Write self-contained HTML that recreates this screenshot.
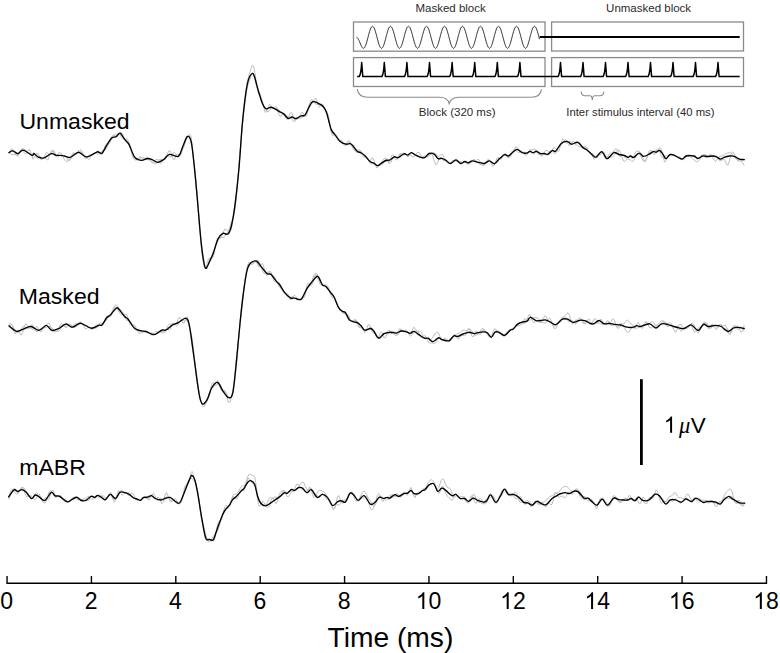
<!DOCTYPE html>
<html><head><meta charset="utf-8"><style>
html,body{margin:0;padding:0;background:#fff;}
svg{display:block;}
text{font-family:"Liberation Sans",sans-serif;}
.g{fill:none;stroke:#bdbdbd;stroke-width:1;stroke-linejoin:round;}
.k{fill:none;stroke:#000;stroke-width:1.35;stroke-linejoin:round;stroke-linecap:round;}
.box{fill:none;stroke:#8a8a8a;stroke-width:1.3;}
.it{font-size:11.5px;fill:#2a2a2a;}
</style></head><body>
<svg width="780" height="653" viewBox="0 0 780 653">
<rect width="780" height="653" fill="#fff"/>
<text class="it" x="450.6" y="11.8" text-anchor="middle">Masked block</text>
<text class="it" x="648.6" y="11.8" text-anchor="middle">Unmasked block</text>
<rect class="box" x="353.5" y="22" width="191.5" height="29.2"/>
<rect class="box" x="551.6" y="22" width="191.9" height="29"/>
<rect class="box" x="353.5" y="57.6" width="191.5" height="28.9"/>
<rect class="box" x="551.6" y="57.6" width="191.9" height="28.9"/>
<path d="M356.50,37.30 L357.00,37.44 L357.50,37.85 L358.00,38.51 L358.50,39.39 L359.00,40.44 L359.50,41.62 L360.00,42.85 L360.50,44.08 L361.00,45.26 L361.50,46.31 L362.00,47.19 L362.50,47.85 L363.00,48.26 L363.50,48.30 L364.00,48.13 L364.50,47.64 L365.00,46.83 L365.50,45.73 L366.00,44.37 L366.50,42.80 L367.00,41.06 L367.50,39.21 L368.00,37.30 L368.50,35.39 L369.00,33.54 L369.50,31.80 L370.00,30.23 L370.50,28.87 L371.00,27.77 L371.50,26.96 L372.00,26.47 L372.50,26.30 L373.00,26.47 L373.50,26.96 L374.00,27.77 L374.50,28.87 L375.00,30.23 L375.50,31.80 L376.00,33.54 L376.50,35.39 L377.00,37.30 L377.50,39.21 L378.00,41.06 L378.50,42.80 L379.00,44.37 L379.50,45.73 L380.00,46.83 L380.50,47.64 L381.00,48.13 L381.50,48.30 L382.00,48.13 L382.50,47.64 L383.00,46.83 L383.50,45.73 L384.00,44.37 L384.50,42.80 L385.00,41.06 L385.50,39.21 L386.00,37.30 L386.50,35.39 L387.00,33.54 L387.50,31.80 L388.00,30.23 L388.50,28.87 L389.00,27.77 L389.50,26.96 L390.00,26.47 L390.50,26.30 L391.00,26.47 L391.50,26.96 L392.00,27.77 L392.50,28.87 L393.00,30.23 L393.50,31.80 L394.00,33.54 L394.50,35.39 L395.00,37.30 L395.50,39.21 L396.00,41.06 L396.50,42.80 L397.00,44.37 L397.50,45.73 L398.00,46.83 L398.50,47.64 L399.00,48.13 L399.50,48.30 L400.00,48.13 L400.50,47.64 L401.00,46.83 L401.50,45.73 L402.00,44.37 L402.50,42.80 L403.00,41.06 L403.50,39.21 L404.00,37.30 L404.50,35.39 L405.00,33.54 L405.50,31.80 L406.00,30.23 L406.50,28.87 L407.00,27.77 L407.50,26.96 L408.00,26.47 L408.50,26.30 L409.00,26.47 L409.50,26.96 L410.00,27.77 L410.50,28.87 L411.00,30.23 L411.50,31.80 L412.00,33.54 L412.50,35.39 L413.00,37.30 L413.50,39.21 L414.00,41.06 L414.50,42.80 L415.00,44.37 L415.50,45.73 L416.00,46.83 L416.50,47.64 L417.00,48.13 L417.50,48.30 L418.00,48.13 L418.50,47.64 L419.00,46.83 L419.50,45.73 L420.00,44.37 L420.50,42.80 L421.00,41.06 L421.50,39.21 L422.00,37.30 L422.50,35.39 L423.00,33.54 L423.50,31.80 L424.00,30.23 L424.50,28.87 L425.00,27.77 L425.50,26.96 L426.00,26.47 L426.50,26.30 L427.00,26.47 L427.50,26.96 L428.00,27.77 L428.50,28.87 L429.00,30.23 L429.50,31.80 L430.00,33.54 L430.50,35.39 L431.00,37.30 L431.50,39.21 L432.00,41.06 L432.50,42.80 L433.00,44.37 L433.50,45.73 L434.00,46.83 L434.50,47.64 L435.00,48.13 L435.50,48.30 L436.00,48.13 L436.50,47.64 L437.00,46.83 L437.50,45.73 L438.00,44.37 L438.50,42.80 L439.00,41.06 L439.50,39.21 L440.00,37.30 L440.50,35.39 L441.00,33.54 L441.50,31.80 L442.00,30.23 L442.50,28.87 L443.00,27.77 L443.50,26.96 L444.00,26.47 L444.50,26.30 L445.00,26.47 L445.50,26.96 L446.00,27.77 L446.50,28.87 L447.00,30.23 L447.50,31.80 L448.00,33.54 L448.50,35.39 L449.00,37.30 L449.50,39.21 L450.00,41.06 L450.50,42.80 L451.00,44.37 L451.50,45.73 L452.00,46.83 L452.50,47.64 L453.00,48.13 L453.50,48.30 L454.00,48.13 L454.50,47.64 L455.00,46.83 L455.50,45.73 L456.00,44.37 L456.50,42.80 L457.00,41.06 L457.50,39.21 L458.00,37.30 L458.50,35.39 L459.00,33.54 L459.50,31.80 L460.00,30.23 L460.50,28.87 L461.00,27.77 L461.50,26.96 L462.00,26.47 L462.50,26.30 L463.00,26.47 L463.50,26.96 L464.00,27.77 L464.50,28.87 L465.00,30.23 L465.50,31.80 L466.00,33.54 L466.50,35.39 L467.00,37.30 L467.50,39.21 L468.00,41.06 L468.50,42.80 L469.00,44.37 L469.50,45.73 L470.00,46.83 L470.50,47.64 L471.00,48.13 L471.50,48.30 L472.00,48.13 L472.50,47.64 L473.00,46.83 L473.50,45.73 L474.00,44.37 L474.50,42.80 L475.00,41.06 L475.50,39.21 L476.00,37.30 L476.50,35.39 L477.00,33.54 L477.50,31.80 L478.00,30.23 L478.50,28.87 L479.00,27.77 L479.50,26.96 L480.00,26.47 L480.50,26.30 L481.00,26.47 L481.50,26.96 L482.00,27.77 L482.50,28.87 L483.00,30.23 L483.50,31.80 L484.00,33.54 L484.50,35.39 L485.00,37.30 L485.50,39.21 L486.00,41.06 L486.50,42.80 L487.00,44.37 L487.50,45.73 L488.00,46.83 L488.50,47.64 L489.00,48.13 L489.50,48.30 L490.00,48.13 L490.50,47.64 L491.00,46.83 L491.50,45.73 L492.00,44.37 L492.50,42.80 L493.00,41.06 L493.50,39.21 L494.00,37.30 L494.50,35.39 L495.00,33.54 L495.50,31.80 L496.00,30.23 L496.50,28.87 L497.00,27.77 L497.50,26.96 L498.00,26.47 L498.50,26.30 L499.00,26.47 L499.50,26.96 L500.00,27.77 L500.50,28.87 L501.00,30.23 L501.50,31.80 L502.00,33.54 L502.50,35.39 L503.00,37.30 L503.50,39.21 L504.00,41.06 L504.50,42.80 L505.00,44.37 L505.50,45.73 L506.00,46.83 L506.50,47.64 L507.00,48.13 L507.50,48.30 L508.00,48.13 L508.50,47.64 L509.00,46.83 L509.50,45.73 L510.00,44.37 L510.50,42.80 L511.00,41.06 L511.50,39.21 L512.00,37.30 L512.50,35.39 L513.00,33.54 L513.50,31.80 L514.00,30.23 L514.50,28.87 L515.00,27.77 L515.50,26.96 L516.00,26.47 L516.50,26.30 L517.00,26.47 L517.50,26.96 L518.00,27.77 L518.50,28.87 L519.00,30.23 L519.50,31.80 L520.00,33.54 L520.50,35.39 L521.00,37.30 L521.50,39.21 L522.00,41.06 L522.50,42.80 L523.00,44.37 L523.50,45.73 L524.00,46.83 L524.50,47.64 L525.00,48.13 L525.50,48.30 L526.00,48.13 L526.50,47.64 L527.00,46.83 L527.50,45.73 L528.00,44.37 L528.50,42.80 L529.00,41.06 L529.50,39.21 L530.00,37.30 L530.50,35.39 L531.00,33.54 L531.50,31.80 L532.00,30.23 L532.50,28.87 L533.00,27.77 L533.50,26.96 L534.00,26.47 L534.50,26.30 L535.00,26.47 L535.50,26.96 L536.00,27.77 L536.50,28.87 L537.00,30.23 L537.50,31.80 L538.00,33.54 L538.50,35.39 L539.00,37.30 L539.50,39.21" fill="none" stroke="#333" stroke-width="1.0"/>
<line x1="539.7" y1="37.1" x2="739.7" y2="37.1" stroke="#000" stroke-width="2"/>
<path d="M357.2,76.6 L359.3,76.6 Q361.0,74 361.7,62.6 L362.8,76.6 L381.9,76.6 Q383.6,74 384.3,62.6 L385.4,76.6 L404.5,76.6 Q406.2,74 406.9,62.6 L408.0,76.6 L427.1,76.6 Q428.8,74 429.5,62.6 L430.6,76.6 L449.7,76.6 Q451.4,74 452.1,62.6 L453.2,76.6 L472.3,76.6 Q474.0,74 474.7,62.6 L475.8,76.6 L494.9,76.6 Q496.6,74 497.3,62.6 L498.4,76.6 L517.5,76.6 Q519.2,74 519.9,62.6 L521.0,76.6 L558.1,76.6 Q559.8,74 560.5,62.6 L561.6,76.6 L580.6,76.6 Q582.3,74 583.0,62.6 L584.1,76.6 L603.1,76.6 Q604.8,74 605.5,62.6 L606.6,76.6 L625.6,76.6 Q627.3,74 628.0,62.6 L629.1,76.6 L648.1,76.6 Q649.8,74 650.5,62.6 L651.6,76.6 L670.6,76.6 Q672.3,74 673.0,62.6 L674.1,76.6 L693.1,76.6 Q694.8,74 695.5,62.6 L696.6,76.6 L715.6,76.6 Q717.3,74 718.0,62.6 L719.1,76.6 L739.7,76.6" fill="none" stroke="#000" stroke-width="1.5" stroke-linejoin="round"/>
<path d="M357.2,89.1 Q358.5,97.3 368,97.3 L440,97.3 Q447.5,97.3 449.2,103.7 Q451,97.3 458.5,97.3 L531,97.3 Q540.5,97.3 541.5,89.4" fill="none" stroke="#8a8a8a" stroke-width="1.1"/>
<path d="M581.2,91.5 Q581.5,95.8 585,95.8 L590,95.8 Q592,95.8 592.3,100 Q592.6,95.8 594.6,95.8 L600,95.8 Q603.5,95.8 603.8,91.5" fill="none" stroke="#8a8a8a" stroke-width="1.1"/>
<text class="it" x="457.2" y="115.6" text-anchor="middle">Block (320 ms)</text>
<text class="it" x="640.4" y="115.8" text-anchor="middle" style="font-size:11.3px">Inter stimulus interval (40 ms)</text>
<path class="g" d="M9.0,152.5 10.4,154.0 11.9,154.7 13.5,154.6 15.0,154.6 16.3,154.8 17.9,154.8 19.3,153.5 20.5,151.8 21.8,150.6 23.5,151.7 25.2,153.9 26.8,153.1 28.3,150.0 29.8,149.5 31.5,154.5 33.0,159.2 33.6,158.2 35.1,156.2 36.5,153.3 37.7,153.0 39.3,156.4 40.9,159.7 42.6,158.7 44.5,157.3 46.3,159.4 47.8,160.0 49.3,156.5 51.0,151.1 52.7,150.7 54.4,154.6 55.8,156.5 57.6,154.7 59.5,152.2 61.1,153.2 62.8,156.5 64.5,159.7 66.2,161.3 68.0,161.1 69.9,159.7 71.5,157.9 73.2,155.9 74.4,155.0 75.7,154.6 77.4,153.5 79.0,151.2 80.6,149.6 82.2,151.4 83.7,155.7 85.2,158.7 86.9,157.9 88.6,155.6 90.2,154.9 91.7,154.8 93.4,153.6 95.0,152.5 96.4,153.0 98.1,154.2 99.6,153.7 101.2,151.7 102.8,150.3 103.8,150.2 104.7,150.1 105.6,149.6 106.5,148.4 107.5,146.3 108.6,143.5 109.6,140.7 110.7,138.4 111.9,136.2 113.6,135.0 115.4,135.8 116.8,136.7 117.9,135.8 119.0,134.0 120.6,132.1 121.7,132.7 122.7,134.5 123.6,137.0 124.7,140.0 126.0,142.1 127.3,143.2 128.5,144.4 129.5,146.1 130.3,148.2 131.2,150.7 132.0,153.3 132.9,155.9 133.8,158.1 134.7,159.7 136.0,160.3 137.6,159.0 139.2,156.9 140.9,156.9 142.5,158.7 144.2,159.3 145.8,158.0 147.6,157.4 149.3,159.1 150.9,161.0 152.6,161.9 154.3,163.2 155.7,164.0 157.5,162.5 159.4,159.5 161.0,159.3 162.7,160.4 164.2,159.6 165.5,157.3 166.6,155.5 167.9,155.6 169.4,157.1 171.0,156.6 172.9,153.2 174.4,152.4 176.3,154.9 177.9,156.2 179.2,155.0 180.3,153.3 180.9,152.1 181.6,151.0 182.2,150.0 182.8,149.1 183.4,148.0 184.1,146.3 184.8,144.0 185.4,141.4 186.3,138.2 187.3,135.6 188.9,135.9 190.0,138.6 190.7,141.1 191.2,143.2 191.6,145.4 191.9,147.0 192.2,148.7 192.4,150.5 192.7,152.3 192.9,154.3 193.2,156.4 193.5,158.6 193.8,160.9 194.1,163.3 194.4,166.0 194.6,167.4 194.8,168.9 195.0,170.4 195.1,172.0 195.3,173.7 195.5,175.4 195.7,177.1 195.8,178.9 196.0,180.8 196.2,182.8 196.4,184.7 196.6,186.8 196.7,188.9 196.9,191.0 197.1,193.2 197.3,195.4 197.5,197.7 197.7,200.1 197.9,202.6 198.1,205.2 198.3,207.9 198.5,210.6 198.7,213.5 198.9,216.3 199.1,219.1 199.3,222.0 199.5,224.8 199.7,227.6 199.9,230.4 200.1,233.0 200.3,235.6 200.5,238.0 200.7,240.4 200.8,242.6 201.0,244.7 201.2,246.6 201.4,248.3 201.7,251.6 202.0,254.4 202.4,256.9 202.7,259.0 203.0,260.8 203.3,262.4 203.6,263.7 204.0,265.2 204.3,266.5 204.7,267.4 205.4,267.4 206.7,264.4 207.4,261.8 208.2,259.8 208.9,258.4 209.6,257.7 210.4,257.8 211.3,258.2 212.1,258.2 212.9,257.4 213.5,255.8 214.2,253.0 214.7,250.7 215.2,248.0 215.7,245.3 216.2,242.7 216.7,240.5 217.5,238.3 218.2,237.5 219.2,237.8 220.2,238.4 221.4,237.4 222.9,233.2 224.7,229.1 226.2,229.8 227.9,230.9 229.1,229.0 230.0,226.5 230.6,224.3 231.1,222.7 231.7,221.2 232.0,220.3 232.4,219.5 232.8,218.6 233.2,217.6 233.5,216.6 233.9,215.2 234.3,213.6 234.6,211.6 235.0,209.2 235.4,206.3 235.8,203.1 236.1,199.4 236.3,197.5 236.5,195.4 236.7,193.3 236.9,191.2 237.1,189.0 237.3,186.8 237.4,184.6 237.6,182.4 237.8,180.2 238.0,178.0 238.2,175.9 238.4,173.7 238.5,171.6 238.7,169.6 238.9,167.5 239.1,165.5 239.3,163.5 239.4,161.4 239.6,159.3 239.8,157.2 240.0,155.1 240.1,153.0 240.3,150.9 240.5,148.8 240.6,146.7 240.8,144.6 241.0,142.5 241.2,140.4 241.3,138.4 241.5,136.4 241.7,134.4 241.8,132.5 242.0,130.6 242.1,128.7 242.3,127.0 242.5,125.2 242.6,123.5 242.8,121.8 242.9,120.2 243.2,116.9 243.5,113.6 243.8,110.5 244.1,107.4 244.4,104.5 244.7,101.6 245.0,98.8 245.3,96.0 245.6,93.5 245.9,91.1 246.2,88.8 246.5,86.8 246.8,84.9 247.1,83.2 247.6,80.8 248.1,78.7 248.6,76.7 249.1,74.8 249.9,72.0 251.0,68.5 252.2,65.3 253.5,66.0 254.2,69.0 254.8,72.3 255.3,75.8 255.9,79.7 256.5,83.8 256.9,86.3 257.5,89.6 258.1,92.0 258.7,93.7 259.3,94.9 259.9,95.8 260.4,96.7 261.0,97.8 261.6,99.2 262.4,101.7 263.1,104.8 264.1,108.8 265.2,112.3 266.7,111.9 268.3,106.8 269.7,104.2 271.4,106.0 273.0,108.2 274.6,107.0 276.2,106.4 277.6,109.8 279.0,114.8 280.6,116.7 282.2,114.1 283.6,113.0 284.8,114.9 285.9,118.1 287.1,119.6 288.6,117.3 290.1,113.1 291.6,112.5 293.3,116.7 294.7,119.9 296.5,119.6 298.2,118.6 299.6,118.4 301.2,118.0 302.8,117.0 304.4,116.0 305.6,114.5 306.4,112.9 307.1,110.8 307.9,108.4 308.7,106.0 309.6,103.4 310.5,101.3 311.4,100.0 312.7,100.2 314.4,102.6 316.0,104.4 317.6,104.5 319.3,103.8 320.8,104.2 322.2,106.0 323.4,108.0 324.5,109.1 325.4,109.8 326.1,110.4 326.8,111.4 327.3,112.8 327.8,114.7 328.3,117.0 328.8,119.5 329.2,122.1 329.7,124.7 330.2,127.3 330.6,129.7 331.2,131.7 332.0,133.3 333.1,133.6 334.3,133.2 335.4,133.9 336.6,136.2 337.6,138.6 338.6,140.2 339.7,140.7 341.1,140.4 342.6,141.4 344.1,144.2 345.8,146.0 347.4,144.5 349.1,142.2 350.8,143.7 352.2,146.8 353.3,149.0 354.4,150.2 355.4,150.6 356.4,150.5 357.6,150.1 359.1,149.7 360.8,150.8 362.3,152.9 363.6,154.4 364.9,155.3 366.1,156.4 367.2,157.9 368.3,160.1 369.5,162.6 370.8,163.9 372.5,163.8 374.2,163.8 375.6,165.0 376.9,166.1 378.6,165.5 379.9,164.0 381.3,162.5 382.8,160.6 384.2,158.6 385.8,157.8 387.4,160.3 389.1,163.7 390.8,162.7 392.2,159.2 393.5,156.7 395.2,156.9 396.7,158.0 398.4,156.1 399.9,153.8 401.4,153.3 402.9,154.4 404.5,154.7 406.0,154.5 407.6,154.8 409.0,155.0 410.2,155.2 411.7,156.2 413.2,156.8 414.8,155.9 416.2,153.8 417.8,152.1 419.3,152.8 421.0,155.5 422.5,157.2 424.1,157.2 425.7,157.0 426.8,157.1 427.9,156.9 429.3,155.6 431.2,153.8 432.7,156.0 434.4,161.6 435.7,164.5 436.6,164.6 437.7,162.4 439.2,158.2 440.9,157.5 442.7,160.1 444.2,161.0 445.6,160.3 446.9,160.3 448.2,161.8 449.6,163.6 451.1,163.7 452.6,162.2 454.0,160.5 455.5,159.8 457.2,160.6 458.3,162.0 459.4,163.3 461.0,163.5 462.6,162.4 464.0,162.0 465.5,163.0 467.0,164.4 468.6,163.4 470.1,161.0 471.7,160.2 473.4,161.4 475.1,161.4 476.7,159.8 478.4,159.2 480.0,161.4 481.7,164.5 483.3,165.7 485.0,164.6 486.6,162.0 488.1,160.0 489.9,160.8 491.4,164.3 492.7,166.5 494.2,165.5 495.8,161.1 497.1,158.2 498.1,157.6 499.3,158.5 500.6,159.3 502.0,158.1 503.3,155.6 504.7,153.5 506.3,154.2 507.8,155.9 509.4,155.4 510.7,153.4 511.9,151.6 513.1,150.4 514.5,150.0 515.9,150.6 517.6,151.9 519.1,152.4 520.4,152.0 522.0,151.9 523.6,153.5 525.2,155.3 526.9,154.9 528.4,152.2 529.7,150.0 531.3,149.7 532.8,149.9 534.4,149.1 535.8,149.3 537.4,152.1 538.7,154.5 540.3,155.1 542.0,154.2 543.8,154.2 545.5,154.9 547.2,155.1 548.7,154.8 549.8,154.4 551.0,152.9 552.5,149.4 554.0,147.4 555.5,148.1 556.8,150.3 557.9,151.6 558.9,150.8 559.8,148.0 561.0,143.0 562.5,139.2 564.0,139.9 565.7,142.8 567.3,142.6 568.9,141.4 570.1,141.4 571.8,142.5 573.3,143.4 575.0,144.0 576.7,144.9 578.5,146.1 579.9,146.8 580.9,147.0 581.9,146.9 583.1,146.7 584.5,146.3 586.1,146.7 587.6,149.0 588.9,151.5 590.3,153.2 591.6,153.6 592.9,153.8 594.1,155.3 595.7,157.6 597.2,158.0 598.4,156.2 599.7,153.7 600.9,152.2 602.5,152.9 603.4,154.5 604.4,155.8 605.2,156.7 606.2,156.9 607.7,156.4 609.0,156.4 610.3,157.1 611.4,157.2 612.7,156.6 614.3,155.3 616.0,153.1 617.6,150.8 619.1,149.9 620.7,152.8 622.5,159.0 624.2,161.7 625.7,160.6 627.3,159.2 628.8,159.4 630.1,159.8 631.6,161.2 633.0,161.3 634.7,158.8 636.0,156.5 637.4,154.6 639.0,153.9 640.6,155.8 641.9,158.6 643.3,161.0 645.0,161.2 646.6,158.4 648.1,154.0 649.6,150.7 651.0,150.1 652.5,152.4 654.2,154.7 655.7,153.7 657.3,150.1 658.5,149.1 660.1,152.7 661.3,156.1 662.4,157.5 663.3,157.1 664.1,156.5 664.8,156.1 666.3,155.7 667.6,155.9 668.7,156.0 669.9,155.3 671.6,154.2 673.3,154.6 674.9,155.9 676.4,156.2 678.1,156.4 679.7,158.0 681.3,159.7 683.1,158.9 684.3,156.8 685.6,155.2 687.4,155.5 689.4,156.3 691.1,157.0 693.0,158.9 694.8,160.7 696.2,161.5 697.7,161.4 699.4,159.8 700.7,158.1 702.1,156.5 703.9,156.3 705.6,157.4 707.2,157.5 709.0,155.3 710.8,154.3 712.5,155.7 714.1,156.8 715.6,156.2 717.1,156.3 718.5,158.4 719.9,160.9 721.6,160.8 722.9,159.1 724.3,159.5 725.9,163.0 727.6,165.3 729.2,161.7 731.0,154.7 732.7,151.7 734.4,154.1 735.9,157.8 737.4,160.5 738.9,161.1 740.5,160.9 742.2,162.1 743.8,165.0 744.3,165.6"/><path class="g" d="M9.0,152.5 10.4,149.9 11.9,148.8 13.5,149.9 15.0,152.6 16.3,155.2 17.9,156.3 19.3,154.0 20.5,151.0 21.8,148.8 23.5,148.8 25.2,149.9 26.8,150.7 28.3,152.6 29.8,154.7 31.5,155.0 33.0,153.9 33.6,152.3 35.1,154.7 36.5,157.7 37.7,158.3 39.3,156.8 40.9,157.0 42.6,158.8 44.5,156.5 46.3,152.5 47.8,153.0 49.3,155.5 51.0,154.3 52.7,150.2 54.4,151.2 55.8,155.6 57.6,157.6 59.5,155.4 61.1,155.4 62.8,156.5 64.5,155.8 66.2,156.2 68.0,159.9 69.9,160.3 71.5,155.8 73.2,152.7 74.4,153.6 75.7,154.6 77.4,152.8 79.0,150.2 80.6,151.3 82.2,154.1 83.7,155.2 85.2,155.4 86.9,157.6 88.6,159.5 90.2,157.8 91.7,154.7 93.4,153.4 95.0,153.2 96.4,151.8 98.1,150.7 99.6,152.4 101.2,155.0 102.8,153.4 103.8,149.9 104.7,146.9 105.6,144.7 106.5,143.8 107.5,143.8 108.6,143.8 109.6,142.9 110.7,141.0 111.9,138.3 113.6,135.9 115.4,134.8 116.8,134.3 117.9,133.8 119.0,133.9 120.6,135.9 121.7,137.6 122.7,138.7 123.6,139.3 124.7,139.3 126.0,138.9 127.3,139.3 128.5,141.2 129.5,144.3 130.3,147.6 131.2,151.3 132.0,154.7 132.9,157.3 133.8,158.8 134.7,159.3 136.0,159.0 137.6,158.7 139.2,158.6 140.9,157.8 142.5,157.1 144.2,158.0 145.8,159.6 147.6,159.8 149.3,159.6 150.9,161.3 152.6,163.2 154.3,162.3 155.7,159.8 157.5,159.1 159.4,162.3 161.0,163.5 162.7,161.3 164.2,159.0 165.5,157.6 166.6,155.7 167.9,152.8 169.4,150.3 171.0,152.6 172.9,158.8 174.4,159.7 176.3,155.3 177.9,154.1 179.2,155.6 180.3,155.8 180.9,154.7 181.6,152.6 182.2,150.2 182.8,147.6 183.4,145.2 184.1,143.2 184.8,141.6 185.4,140.4 186.3,139.1 187.3,137.6 188.9,134.9 190.0,134.4 190.7,135.8 191.2,137.7 191.6,140.4 191.9,142.5 192.2,144.7 192.4,147.2 192.7,149.9 192.9,152.7 193.2,155.6 193.5,158.7 193.8,162.0 194.1,165.3 194.4,168.8 194.6,170.6 194.8,172.4 195.0,174.3 195.1,176.1 195.3,178.0 195.5,179.9 195.7,181.9 195.8,183.8 196.0,185.8 196.2,187.8 196.4,189.8 196.6,191.9 196.7,193.9 196.9,196.0 197.1,198.1 197.3,200.2 197.5,202.3 197.7,204.5 197.9,206.8 198.1,209.2 198.3,211.6 198.5,214.0 198.7,216.4 198.9,218.9 199.1,221.3 199.3,223.6 199.5,225.9 199.7,228.2 199.9,230.4 200.1,232.5 200.3,234.5 200.5,236.4 200.7,238.2 200.8,239.9 201.0,241.4 201.2,242.9 201.4,244.3 201.7,246.8 202.0,249.2 202.4,251.4 202.7,253.5 203.0,255.4 203.3,257.3 203.6,259.1 204.0,261.6 204.3,263.8 204.7,266.1 205.4,268.2 206.7,268.7 207.4,266.9 208.2,264.8 208.9,262.6 209.6,260.4 210.4,258.4 211.3,256.5 212.1,254.8 212.9,253.0 213.5,251.4 214.2,249.5 214.7,248.2 215.2,247.0 215.7,245.8 216.2,244.6 216.7,243.5 217.5,241.9 218.2,240.5 219.2,238.7 220.2,237.5 221.4,237.2 222.9,237.7 224.7,236.7 226.2,233.8 227.9,231.7 229.1,231.7 230.0,231.5 230.6,230.5 231.1,229.0 231.7,226.8 232.0,224.9 232.4,222.7 232.8,220.3 233.2,217.7 233.5,215.0 233.9,212.3 234.3,209.5 234.6,206.7 235.0,203.9 235.4,201.0 235.8,198.1 236.1,195.0 236.3,193.5 236.5,191.8 236.7,190.2 236.9,188.4 237.1,186.7 237.3,184.9 237.4,183.0 237.6,181.1 237.8,179.2 238.0,177.2 238.2,175.2 238.4,173.1 238.5,171.0 238.7,169.0 238.9,166.9 239.1,164.7 239.3,162.5 239.4,160.3 239.6,158.0 239.8,155.7 240.0,153.4 240.1,151.1 240.3,148.8 240.5,146.6 240.6,144.4 240.8,142.2 241.0,140.0 241.2,138.0 241.3,136.0 241.5,134.0 241.7,132.1 241.8,130.4 242.0,128.7 242.1,127.0 242.3,125.5 242.5,124.1 242.6,122.7 242.8,121.3 242.9,120.0 243.2,117.4 243.5,114.8 243.8,112.4 244.1,109.9 244.4,107.5 244.7,105.1 245.0,102.8 245.3,100.4 245.6,98.1 245.9,95.9 246.2,93.9 246.5,92.0 246.8,90.2 247.1,88.6 247.6,86.4 248.1,84.6 248.6,82.9 249.1,81.3 249.9,79.0 251.0,75.9 252.2,72.9 253.5,73.5 254.2,76.1 254.8,78.8 255.3,81.3 255.9,83.9 256.5,86.2 256.9,87.5 257.5,89.1 258.1,90.2 258.7,91.1 259.3,92.2 259.9,93.7 260.4,95.5 261.0,97.5 261.6,99.6 262.4,102.1 263.1,104.1 264.1,106.2 265.2,108.4 266.7,111.0 268.3,111.9 269.7,110.0 271.4,107.3 273.0,107.7 274.6,109.3 276.2,109.3 277.6,108.7 279.0,109.8 280.6,112.6 282.2,113.9 283.6,113.5 284.8,113.6 285.9,114.8 287.1,116.1 288.6,116.8 290.1,116.8 291.6,118.4 293.3,121.3 294.7,121.5 296.5,119.0 298.2,117.5 299.6,116.0 301.2,113.1 302.8,112.4 304.4,115.5 305.6,116.8 306.4,115.8 307.1,113.5 307.9,110.5 308.7,107.8 309.6,105.7 310.5,104.7 311.4,104.3 312.7,103.0 314.4,99.1 316.0,98.4 317.6,103.4 319.3,107.1 320.8,105.3 322.2,103.8 323.4,105.6 324.5,109.0 325.4,111.4 326.1,112.5 326.8,113.1 327.3,113.6 327.8,114.5 328.3,115.8 328.8,117.6 329.2,119.9 329.7,122.6 330.2,125.6 330.6,128.8 331.2,131.8 332.0,134.8 333.1,135.7 334.3,134.6 335.4,134.6 336.6,136.8 337.6,139.4 338.6,141.0 339.7,140.9 341.1,140.0 342.6,141.5 344.1,144.7 345.8,144.8 347.4,141.7 349.1,140.6 350.8,143.4 352.2,145.8 353.3,147.3 354.4,149.1 355.4,151.0 356.4,152.4 357.6,152.7 359.1,151.5 360.8,152.5 362.3,155.8 363.6,157.2 364.9,156.5 366.1,156.1 367.2,157.3 368.3,159.6 369.5,161.2 370.8,160.1 372.5,157.7 374.2,160.6 375.6,165.6 376.9,168.1 378.6,166.6 379.9,165.2 381.3,165.2 382.8,164.1 384.2,161.0 385.8,159.0 387.4,161.1 389.1,162.4 390.8,158.2 392.2,154.8 393.5,155.5 395.2,159.2 396.7,160.1 398.4,156.7 399.9,154.5 401.4,154.2 402.9,153.7 404.5,153.0 406.0,154.4 407.6,156.7 409.0,156.1 410.2,154.0 411.7,152.5 413.2,153.4 414.8,154.8 416.2,155.2 417.8,155.8 419.3,157.0 421.0,157.8 422.5,157.0 424.1,156.1 425.7,156.1 426.8,156.1 427.9,155.9 429.3,155.3 431.2,154.2 432.7,153.2 434.4,152.8 435.7,153.7 436.6,155.1 437.7,156.5 439.2,156.3 440.9,154.4 442.7,154.8 444.2,157.5 445.6,160.3 446.9,162.1 448.2,163.2 449.6,163.4 451.1,162.3 452.6,160.9 454.0,160.3 455.5,160.8 457.2,161.8 458.3,162.1 459.4,162.1 461.0,161.7 462.6,161.6 464.0,161.5 465.5,161.5 467.0,162.8 468.6,163.9 470.1,163.5 471.7,161.3 473.4,159.4 475.1,159.9 476.7,161.9 478.4,163.6 480.0,164.3 481.7,164.7 483.3,164.3 485.0,162.8 486.6,160.7 488.1,159.5 489.9,160.5 491.4,162.6 492.7,163.8 494.2,163.6 495.8,162.0 497.1,160.9 498.1,160.4 499.3,159.7 500.6,158.2 502.0,155.9 503.3,154.2 504.7,154.2 506.3,156.4 507.8,158.0 509.4,157.4 510.7,155.8 511.9,154.1 513.1,151.9 514.5,148.9 515.9,146.7 517.6,147.7 519.1,150.8 520.4,152.6 522.0,152.6 523.6,152.0 525.2,152.6 526.9,153.4 528.4,152.5 529.7,151.4 531.3,152.3 532.8,153.8 534.4,153.6 535.8,151.8 537.4,150.9 538.7,152.1 540.3,154.8 542.0,156.2 543.8,153.6 545.5,150.5 547.2,150.5 548.7,151.8 549.8,152.1 551.0,151.5 552.5,151.1 554.0,153.1 555.5,153.7 556.8,151.2 557.9,148.0 558.9,146.1 559.8,145.0 561.0,144.5 562.5,143.3 564.0,140.5 565.7,139.7 567.3,142.7 568.9,145.4 570.1,145.1 571.8,142.1 573.3,141.1 575.0,142.4 576.7,142.7 578.5,142.7 579.9,144.7 580.9,146.6 581.9,147.8 583.1,147.9 584.5,147.4 586.1,148.5 587.6,150.3 588.9,151.1 590.3,151.9 591.6,154.1 592.9,157.3 594.1,159.2 595.7,157.9 597.2,155.1 598.4,154.5 599.7,154.8 600.9,154.3 602.5,152.4 603.4,152.0 604.4,153.1 605.2,154.9 606.2,156.6 607.7,156.5 609.0,154.4 610.3,153.2 611.4,153.1 612.7,152.8 614.3,150.4 616.0,148.4 617.6,151.1 619.1,155.5 620.7,156.4 622.5,154.6 624.2,155.7 625.7,158.0 627.3,157.9 628.8,156.1 630.1,155.5 631.6,157.8 633.0,158.4 634.7,154.4 636.0,151.6 637.4,151.0 639.0,151.4 640.6,152.4 641.9,155.1 643.3,159.3 645.0,161.9 646.6,158.5 648.1,153.9 649.6,153.0 651.0,154.1 652.5,153.2 654.2,150.4 655.7,150.0 657.3,150.3 658.5,148.9 660.1,147.4 661.3,148.9 662.4,152.9 663.3,157.1 664.1,160.3 664.8,162.1 666.3,160.6 667.6,156.6 668.7,154.6 669.9,154.7 671.6,155.9 673.3,155.3 674.9,154.9 676.4,155.9 678.1,156.8 679.7,156.9 681.3,158.1 683.1,160.0 684.3,159.4 685.6,157.3 687.4,154.8 689.4,154.6 691.1,155.4 693.0,156.2 694.8,157.3 696.2,158.7 697.7,159.2 699.4,157.9 700.7,156.5 702.1,155.2 703.9,154.4 705.6,154.9 707.2,155.9 709.0,155.8 710.8,155.3 712.5,157.0 714.1,160.2 715.6,161.5 717.1,159.7 718.5,157.3 719.9,156.1 721.6,156.1 722.9,155.7 724.3,155.0 725.9,154.0 727.6,153.0 729.2,152.6 731.0,153.0 732.7,154.6 734.4,157.1 735.9,159.0 737.4,159.9 738.9,160.0 740.5,160.2 742.2,160.5 743.8,160.0 744.3,159.7"/><path class="k" d="M9.0,152.7 C9.6,152.4 11.3,150.7 12.8,150.8 C14.3,151.0 16.2,153.7 17.9,153.6 C19.6,153.5 20.7,149.8 23.1,150.1 C25.5,150.4 30.3,154.7 32.1,155.3 C33.9,155.9 32.9,153.3 34.0,153.6 C35.1,153.9 36.8,156.5 38.5,157.2 C40.2,157.9 42.1,158.4 44.2,157.8 C46.3,157.2 49.3,154.0 51.3,153.6 C53.3,153.2 54.5,155.0 56.4,155.3 C58.3,155.6 60.5,155.2 62.8,155.6 C65.0,155.9 67.3,157.9 69.9,157.4 C72.5,156.9 75.5,152.4 78.2,152.3 C80.9,152.2 83.6,156.5 85.9,156.9 C88.2,157.3 90.4,155.4 92.3,154.6 C94.2,153.8 95.8,152.1 97.4,151.8 C99.0,151.6 100.6,154.1 102.1,153.1 C103.6,152.1 104.9,148.1 106.5,145.6 C108.1,143.1 110.1,139.5 111.7,138.0 C113.3,136.5 114.8,137.5 116.2,136.7 C117.6,135.9 118.6,132.8 120.0,133.2 C121.4,133.6 123.0,137.3 124.5,139.2 C126.0,141.1 127.3,141.4 129.0,144.4 C130.7,147.4 132.7,154.5 134.7,157.2 C136.7,159.9 139.0,160.2 141.2,160.4 C143.3,160.6 145.8,158.6 147.6,158.5 C149.4,158.4 150.4,159.1 152.1,159.7 C153.8,160.3 155.8,162.4 157.8,162.3 C159.8,162.2 162.3,160.4 164.2,159.1 C166.1,157.8 167.1,154.9 169.4,154.4 C171.8,153.9 176.0,157.7 178.3,156.3 C180.6,154.9 181.5,149.3 183.0,146.0 C184.5,142.7 186.0,137.4 187.3,136.6 C188.6,135.8 189.9,136.7 191.0,140.9 C192.1,145.1 192.8,152.1 193.8,161.7 C194.9,171.3 196.1,185.0 197.3,198.5 C198.5,212.0 200.0,231.8 201.2,242.7 C202.3,253.6 203.4,259.9 204.2,264.2 C205.0,268.5 205.3,268.1 205.9,268.4 C206.5,268.7 207.0,266.9 207.6,265.8 C208.2,264.7 208.6,263.6 209.5,261.6 C210.4,259.6 211.7,257.5 213.1,253.7 C214.5,249.9 216.4,242.4 218.0,239.0 C219.6,235.6 221.2,234.2 222.9,233.4 C224.6,232.6 226.5,235.4 227.9,234.1 C229.3,232.8 230.3,230.6 231.5,225.5 C232.7,220.4 234.0,212.8 235.2,203.4 C236.4,194.0 237.7,182.3 238.9,169.1 C240.1,155.9 241.2,136.3 242.3,124.3 C243.4,112.2 244.3,104.2 245.3,96.8 C246.3,89.4 247.2,83.8 248.4,79.9 C249.6,76.0 251.2,74.0 252.2,73.5 C253.2,73.0 253.5,74.0 254.5,76.8 C255.5,79.6 257.0,86.2 258.3,90.6 C259.6,94.9 260.9,99.9 262.2,102.9 C263.5,105.9 264.6,108.0 266.0,108.7 C267.4,109.4 269.2,107.2 270.6,107.2 C272.0,107.2 273.0,108.0 274.4,108.7 C275.8,109.4 277.5,110.4 279.0,111.3 C280.5,112.2 282.1,112.7 283.6,113.9 C285.1,115.1 286.8,118.0 288.2,118.5 C289.6,119.0 290.7,117.0 292.0,117.0 C293.3,117.0 294.3,118.7 295.8,118.5 C297.3,118.3 299.7,116.5 301.2,115.9 C302.7,115.3 303.7,116.5 305.0,115.1 C306.3,113.7 307.6,109.7 308.9,107.5 C310.2,105.3 311.0,102.4 312.7,101.7 C314.4,101.0 317.0,102.8 318.8,103.6 C320.6,104.4 322.1,105.2 323.4,106.7 C324.7,108.2 325.6,110.0 326.5,112.5 C327.4,115.0 328.2,118.9 329.0,121.8 C329.8,124.7 330.4,127.8 331.5,130.1 C332.6,132.3 333.9,133.4 335.4,135.3 C336.9,137.2 338.7,140.2 340.5,141.7 C342.3,143.2 344.7,143.9 346.3,144.2 C347.9,144.5 348.9,143.3 350.1,143.6 C351.3,143.9 352.1,144.9 353.3,146.2 C354.5,147.5 355.9,150.2 357.2,151.3 C358.5,152.4 359.7,152.1 361.0,152.8 C362.3,153.6 363.4,154.4 364.9,155.8 C366.4,157.2 368.5,160.3 370.0,161.5 C371.5,162.7 372.5,162.4 373.8,163.1 C375.1,163.8 376.4,165.6 377.7,165.6 C379.0,165.6 380.1,163.9 381.5,163.1 C382.9,162.2 384.6,161.0 386.0,160.5 C387.4,160.0 388.5,160.6 389.9,160.0 C391.3,159.4 393.0,157.2 394.4,156.8 C395.8,156.4 396.6,158.2 398.2,157.7 C399.8,157.2 402.4,154.2 404.0,153.8 C405.6,153.4 406.6,155.3 407.8,155.1 C409.0,154.9 409.9,152.5 411.3,152.6 C412.7,152.7 414.7,154.7 416.2,155.4 C417.7,156.2 418.7,156.7 420.1,157.1 C421.5,157.5 423.1,158.3 424.6,157.7 C426.1,157.1 427.5,154.1 429.1,153.5 C430.7,152.9 432.7,153.3 434.2,154.2 C435.7,155.0 436.8,157.9 438.1,158.6 C439.4,159.3 440.6,158.0 441.9,158.3 C443.2,158.6 444.4,159.4 445.8,160.3 C447.2,161.2 448.6,163.6 450.3,163.5 C452.0,163.4 454.3,159.9 456.0,159.9 C457.7,159.9 459.0,163.2 460.5,163.5 C462.0,163.8 463.7,161.6 465.0,161.5 C466.3,161.4 466.9,162.9 468.2,162.8 C469.5,162.7 471.1,161.0 472.7,160.9 C474.3,160.8 475.9,161.8 477.8,162.2 C479.7,162.6 482.3,163.7 484.2,163.5 C486.1,163.3 487.7,160.9 489.4,160.9 C491.1,160.9 492.8,164.1 494.5,163.7 C496.2,163.3 497.9,160.1 499.6,158.6 C501.3,157.1 503.2,155.1 504.7,154.7 C506.2,154.3 507.3,156.4 508.6,156.0 C509.9,155.6 511.1,153.6 512.5,152.5 C513.9,151.4 515.5,149.4 517.1,149.4 C518.7,149.4 520.6,152.0 522.2,152.6 C523.8,153.2 525.4,153.4 526.7,153.2 C528.0,153.0 528.8,151.4 529.9,151.3 C531.0,151.2 532.0,152.6 533.1,152.6 C534.2,152.6 535.1,151.2 536.3,151.3 C537.5,151.5 538.8,153.1 540.1,153.5 C541.4,153.9 542.7,153.4 544.0,153.5 C545.3,153.6 546.4,154.7 547.8,154.2 C549.2,153.7 551.0,150.9 552.3,150.4 C553.6,149.9 554.0,152.4 555.5,151.3 C557.0,150.2 559.4,145.2 561.3,143.6 C563.2,141.9 565.4,141.3 567.1,141.4 C568.8,141.5 569.7,144.0 571.5,144.2 C573.3,144.3 576.0,141.7 577.9,142.3 C579.8,142.9 581.6,146.5 583.1,147.8 C584.6,149.1 585.4,148.8 586.9,150.0 C588.4,151.2 590.6,153.5 592.1,154.7 C593.6,155.9 594.3,157.6 595.9,157.1 C597.5,156.6 600.0,151.5 601.7,151.7 C603.4,151.9 605.0,157.3 606.2,158.3 C607.4,159.3 607.7,158.4 609.0,157.5 C610.3,156.6 612.3,153.1 614.0,152.6 C615.7,152.1 617.4,154.0 619.1,154.5 C620.8,155.0 622.7,155.0 624.2,155.5 C625.7,156.0 627.0,157.2 628.1,157.3 C629.2,157.4 629.7,156.0 630.6,156.0 C631.5,156.0 632.4,157.8 633.8,157.3 C635.2,156.8 637.4,153.3 639.0,153.2 C640.6,153.0 641.9,156.2 643.5,156.4 C645.1,156.6 647.0,155.3 648.6,154.5 C650.2,153.7 651.8,152.1 653.1,151.7 C654.4,151.3 655.2,152.4 656.3,152.2 C657.4,152.0 658.4,150.1 659.5,150.4 C660.6,150.7 661.6,152.4 662.7,153.8 C663.8,155.2 664.6,158.5 665.9,158.6 C667.2,158.7 668.8,154.9 670.4,154.5 C672.0,154.1 673.6,155.2 675.5,156.0 C677.4,156.8 680.1,159.0 681.9,159.0 C683.7,159.0 684.4,156.5 686.4,156.0 C688.4,155.5 692.0,155.6 694.0,156.0 C696.0,156.4 696.7,158.4 698.1,158.4 C699.5,158.4 701.0,156.3 702.6,156.0 C704.2,155.7 706.3,156.6 708.0,156.6 C709.7,156.6 711.5,155.9 712.9,156.0 C714.3,156.1 715.2,156.4 716.5,156.9 C717.8,157.4 719.2,159.0 720.5,159.1 C721.8,159.2 722.6,157.8 724.1,157.3 C725.6,156.8 727.8,156.2 729.5,156.0 C731.2,155.8 732.8,155.9 734.4,156.4 C736.0,156.9 737.8,158.6 739.4,159.1 C741.0,159.6 743.5,159.5 744.3,159.6"/>
<path class="g" d="M9.0,327.2 10.4,325.1 12.0,324.7 13.3,327.2 14.7,330.6 16.3,332.8 18.0,332.5 19.6,331.5 21.1,329.5 22.8,326.8 24.5,326.2 26.1,327.8 27.6,329.0 29.2,328.3 30.8,328.0 32.4,329.1 34.1,328.9 35.8,326.7 37.5,326.9 39.1,330.0 40.6,331.8 42.1,330.6 43.5,328.5 44.9,327.0 46.5,325.0 48.0,323.2 49.0,323.3 50.1,325.3 51.6,329.3 53.2,331.6 55.0,330.6 56.8,330.4 58.6,331.5 60.1,329.8 61.5,326.4 62.9,324.7 64.3,325.7 66.0,326.6 67.6,325.0 69.1,323.9 70.7,325.2 72.4,326.3 73.9,324.8 75.5,323.5 77.2,324.3 79.0,324.1 80.8,322.0 82.8,323.7 84.3,327.5 85.9,329.0 87.5,327.6 89.1,327.2 91.0,329.3 92.8,329.2 94.5,326.7 96.1,325.2 97.6,324.7 99.1,323.8 100.7,323.1 102.3,323.1 103.4,323.0 104.3,322.7 105.2,321.8 106.1,320.5 107.3,318.6 108.7,316.9 110.2,315.3 111.5,312.9 112.7,309.9 114.0,306.9 115.2,305.2 116.6,305.0 117.9,306.6 119.2,308.4 120.3,309.6 121.5,310.8 122.5,312.3 123.7,315.1 124.9,318.1 126.4,320.1 127.8,320.6 129.1,320.9 130.0,321.5 131.0,322.6 132.0,324.0 133.0,325.3 134.0,326.4 135.4,327.6 137.0,329.4 138.7,330.8 140.3,330.8 142.0,330.5 143.7,331.3 145.4,332.5 147.3,332.7 149.1,333.3 150.6,334.7 152.4,335.1 154.1,333.2 155.7,331.7 157.1,331.8 158.7,332.4 160.1,332.4 161.4,332.4 163.1,332.9 164.7,332.3 166.4,328.6 167.8,325.7 169.2,324.4 170.4,324.4 171.9,323.9 173.4,323.5 175.0,324.6 176.6,326.1 178.3,324.5 179.7,321.3 181.3,319.7 182.8,320.2 184.2,320.4 185.9,319.7 187.3,320.7 188.1,322.6 188.6,324.3 189.1,325.9 189.5,327.5 189.9,328.8 190.2,330.3 190.5,331.5 190.8,332.7 191.1,334.1 191.5,335.8 191.7,336.8 191.9,337.9 192.2,339.2 192.4,340.7 192.7,342.3 192.9,344.1 193.2,346.2 193.5,348.4 193.7,350.8 194.0,353.3 194.3,356.0 194.5,358.7 194.8,361.4 195.1,364.1 195.3,366.6 195.5,369.0 195.8,371.3 196.0,373.3 196.4,376.9 196.8,380.1 197.2,382.8 197.6,385.1 198.0,387.2 198.3,389.0 198.7,390.7 199.0,392.3 199.4,393.8 199.7,395.3 200.2,397.5 200.6,399.5 201.2,402.0 202.2,405.5 203.7,407.1 205.0,404.9 206.2,402.4 207.1,400.9 207.8,399.8 208.5,398.1 209.2,395.7 210.0,392.5 210.7,388.8 211.5,385.4 212.3,383.2 213.4,382.6 214.5,384.1 215.9,385.6 217.6,383.8 219.0,382.7 220.0,384.2 220.8,386.3 221.6,388.5 222.4,389.9 223.6,390.2 224.7,390.5 225.9,392.8 227.1,397.4 228.4,402.2 230.1,402.0 231.5,396.8 232.3,392.8 232.9,389.5 233.3,387.2 233.7,384.6 234.0,381.9 234.4,379.0 234.6,377.4 234.7,375.9 234.9,374.3 235.1,372.7 235.3,371.0 235.4,369.4 235.6,367.7 235.8,365.9 236.0,364.2 236.1,362.5 236.3,360.8 236.5,359.1 236.7,357.4 236.9,355.6 237.0,353.8 237.2,352.0 237.4,350.1 237.6,348.3 237.8,346.4 238.0,344.5 238.2,342.6 238.3,340.7 238.5,338.9 238.7,337.1 238.9,335.3 239.1,333.5 239.3,331.8 239.5,330.1 239.6,328.5 239.8,326.9 240.0,325.3 240.2,323.8 240.4,322.3 240.6,320.7 240.8,319.2 240.9,317.6 241.1,316.0 241.3,314.4 241.5,312.8 241.7,311.1 241.9,309.4 242.1,307.6 242.2,305.9 242.6,302.3 243.0,298.6 243.3,295.0 243.7,291.5 244.1,288.0 244.5,284.7 244.8,281.6 245.2,278.7 245.5,276.0 245.9,273.6 246.3,271.5 246.7,269.6 247.0,268.0 247.6,266.1 248.2,264.6 248.9,263.5 249.9,262.7 251.2,262.7 252.5,263.0 254.0,263.1 255.8,261.6 257.4,260.2 258.7,260.8 259.8,262.9 260.8,265.9 261.9,269.1 263.0,271.8 264.1,273.4 265.3,273.5 266.6,272.5 267.9,271.9 269.5,272.5 271.1,274.4 272.4,275.5 273.5,275.8 274.6,276.8 275.7,278.9 276.8,281.9 278.1,284.9 279.3,286.6 280.4,287.8 281.5,289.1 282.3,290.5 283.2,291.9 284.4,293.1 285.4,293.2 286.5,293.0 287.9,294.1 289.2,297.1 290.7,299.9 292.4,298.4 294.2,295.1 295.8,296.2 297.4,299.0 298.9,299.5 300.5,298.9 301.7,298.7 302.6,298.6 303.5,298.2 304.3,297.0 305.2,294.7 306.0,291.9 306.8,289.4 307.8,287.4 309.0,286.3 310.1,285.5 311.2,283.3 312.5,279.1 313.6,275.6 314.8,274.3 315.9,275.2 317.2,277.7 318.6,280.0 319.4,281.2 320.1,281.9 320.8,282.6 321.4,283.4 322.2,284.4 323.5,285.3 325.2,285.0 326.6,284.9 327.8,286.3 328.8,288.7 329.7,291.9 330.8,295.2 331.9,297.2 333.1,297.4 333.9,297.4 334.7,298.0 335.4,299.2 336.2,301.0 336.9,303.2 337.6,305.5 338.5,307.8 339.5,309.2 340.7,310.0 342.1,311.3 343.7,313.5 345.2,314.3 346.3,314.3 347.0,314.2 347.8,314.5 348.6,315.4 349.6,317.7 351.0,321.1 352.7,322.0 354.2,319.8 355.8,320.0 357.5,324.7 359.0,327.6 360.2,327.1 361.4,326.2 362.5,327.4 363.4,329.9 364.7,332.6 366.4,330.1 368.0,325.0 369.5,324.7 371.1,329.4 372.5,332.6 373.7,333.2 374.6,333.5 375.6,334.8 376.4,336.4 377.5,338.1 378.8,337.2 380.3,333.0 381.6,331.7 382.7,333.8 384.0,337.7 385.6,337.4 387.3,331.5 389.1,329.9 391.0,333.6 392.6,333.4 394.3,331.0 396.2,332.8 397.8,334.9 399.3,332.9 400.8,329.9 402.6,330.3 404.2,332.1 405.9,331.7 407.5,331.5 409.0,333.5 410.7,334.0 412.1,330.4 413.7,327.2 415.3,328.7 416.8,331.5 418.2,331.8 419.5,330.9 420.8,331.3 422.1,333.9 423.7,337.2 425.2,338.7 426.9,338.9 428.6,339.8 429.9,340.3 431.0,339.7 432.4,337.7 434.1,335.0 435.6,333.0 436.9,332.0 438.3,332.6 439.9,336.2 441.2,339.6 442.8,340.1 444.4,338.7 446.2,338.9 447.9,340.6 449.7,340.3 451.0,338.5 452.1,337.2 453.3,336.1 454.8,335.1 456.4,334.4 458.0,333.6 459.8,332.8 461.4,331.5 463.0,330.1 464.7,330.3 466.4,331.0 468.1,329.9 469.9,328.8 471.6,330.7 473.4,333.9 475.0,335.3 476.7,335.0 478.5,333.8 480.2,331.4 482.0,328.8 484.0,329.0 485.8,332.0 487.3,334.4 488.5,336.1 489.4,337.0 490.4,337.2 491.8,335.1 492.8,332.5 493.7,330.2 494.6,328.8 496.1,329.4 497.7,331.1 499.3,331.7 500.7,332.4 502.2,333.9 503.7,335.0 505.5,333.9 506.8,332.2 508.0,330.8 509.2,329.9 510.4,329.3 511.9,329.3 513.5,328.6 514.6,327.8 515.7,326.8 516.9,325.9 518.3,325.4 519.8,325.4 521.4,324.6 523.2,321.4 524.9,318.5 526.7,319.4 528.0,321.0 528.8,320.9 529.9,320.2 531.6,318.9 533.2,317.9 534.5,317.6 536.0,317.5 537.9,318.1 539.6,320.1 541.4,322.1 543.2,322.9 545.1,323.1 546.9,321.7 548.3,319.3 549.8,318.2 551.4,320.9 552.8,324.9 554.2,326.7 556.0,324.5 557.6,322.2 558.9,321.6 560.2,321.0 561.5,319.5 563.0,317.7 564.5,316.2 566.3,314.2 567.9,312.7 569.5,315.3 570.9,320.5 572.4,324.2 574.2,322.4 575.8,319.8 577.5,320.3 579.1,321.1 580.9,319.6 582.7,320.3 584.4,323.6 586.0,323.5 587.4,320.4 589.0,318.9 590.6,321.8 592.2,324.9 593.8,324.7 595.3,323.6 596.6,323.5 597.9,323.0 599.5,320.5 601.0,319.1 602.3,320.8 603.8,324.1 605.6,323.4 607.4,320.3 609.2,321.9 611.0,325.6 612.7,325.5 614.4,324.6 616.2,326.5 617.9,327.1 619.5,324.8 621.1,323.3 622.7,324.1 624.3,323.7 625.9,321.2 627.5,319.9 629.2,321.8 630.9,323.9 632.8,325.0 634.4,327.0 635.8,328.2 637.4,328.1 638.9,327.4 640.7,326.6 642.4,326.0 644.3,323.5 645.9,322.1 647.9,323.2 649.6,323.6 651.4,322.1 652.6,321.9 653.8,323.1 655.2,325.2 657.0,325.6 658.5,324.0 659.7,322.5 661.3,321.2 662.9,320.7 664.5,321.5 666.2,323.1 668.0,323.7 669.6,322.6 671.5,323.8 673.5,329.3 675.5,332.5 677.3,329.3 679.2,324.8 681.0,324.6 682.7,327.0 684.5,328.8 686.2,328.8 687.7,328.1 689.1,326.8 690.9,324.1 692.6,322.9 694.0,324.9 695.1,327.8 696.5,331.4 698.1,332.9 699.6,331.2 700.7,328.8 701.7,326.3 702.7,324.0 704.2,321.9 705.7,322.8 707.0,325.9 708.7,328.9 710.4,327.4 712.2,323.8 714.0,325.4 715.6,329.4 717.5,328.6 719.3,324.7 720.9,324.5 722.6,325.9 724.0,325.4 725.4,325.0 726.8,328.1 728.4,333.8 730.1,334.6 731.5,330.7 732.7,327.0 734.2,326.1 736.0,326.4 737.6,326.1 739.3,328.2 741.1,332.3 742.8,330.7 744.2,325.1"/><path class="g" d="M9.0,325.5 10.4,323.1 12.0,324.7 13.3,329.8 14.7,333.7 16.3,332.5 18.0,329.9 19.6,332.1 21.1,335.1 22.8,332.6 24.5,325.7 26.1,323.7 27.6,326.0 29.2,327.5 30.8,325.6 32.4,324.6 34.1,327.6 35.8,331.3 37.5,331.7 39.1,330.0 40.6,328.6 42.1,328.2 43.5,328.2 44.9,327.9 46.5,327.1 48.0,326.5 49.0,326.4 50.1,326.7 51.6,327.7 53.2,329.9 55.0,332.1 56.8,331.7 58.6,328.1 60.1,325.0 61.5,323.5 62.9,324.4 64.3,326.5 66.0,327.7 67.6,326.7 69.1,325.2 70.7,324.6 72.4,325.8 73.9,327.0 75.5,327.1 77.2,325.2 79.0,322.5 80.8,322.0 82.8,324.3 84.3,325.6 85.9,325.7 87.5,325.9 89.1,327.0 91.0,328.2 92.8,328.2 94.5,328.2 96.1,328.1 97.6,327.0 99.1,325.1 100.7,324.5 102.3,324.6 103.4,323.4 104.3,321.7 105.2,319.3 106.1,317.2 107.3,315.6 108.7,315.9 110.2,316.5 111.5,314.9 112.7,311.7 114.0,308.5 115.2,307.1 116.6,307.7 117.9,310.1 119.2,312.6 120.3,314.0 121.5,314.8 122.5,315.0 123.7,314.7 124.9,314.2 126.4,314.4 127.8,317.3 129.1,321.6 130.0,324.1 131.0,325.5 132.0,325.5 133.0,324.8 134.0,324.7 135.4,326.2 137.0,330.1 138.7,332.9 140.3,333.4 142.0,332.8 143.7,331.7 145.4,330.5 147.3,331.1 149.1,332.9 150.6,333.3 152.4,332.9 154.1,333.8 155.7,334.6 157.1,333.5 158.7,331.4 160.1,330.7 161.4,331.5 163.1,331.9 164.7,330.1 166.4,328.5 167.8,329.2 169.2,330.2 170.4,328.8 171.9,325.0 173.4,323.0 175.0,323.9 176.6,323.6 178.3,319.4 179.7,317.0 181.3,319.4 182.8,323.2 184.2,322.9 185.9,318.4 187.3,317.0 188.1,319.1 188.6,321.6 189.1,324.5 189.5,327.5 189.9,329.9 190.2,332.7 190.5,334.8 190.8,337.1 191.1,339.5 191.5,342.1 191.7,343.5 191.9,344.9 192.2,346.3 192.4,347.7 192.7,349.1 192.9,350.5 193.2,351.9 193.5,353.4 193.7,354.8 194.0,356.4 194.3,358.0 194.5,359.6 194.8,361.3 195.1,363.0 195.3,364.7 195.5,366.4 195.8,368.1 196.0,369.8 196.4,373.0 196.8,376.2 197.2,379.4 197.6,382.5 198.0,385.4 198.3,388.1 198.7,390.7 199.0,392.9 199.4,394.9 199.7,396.7 200.2,398.9 200.6,400.5 201.2,402.0 202.2,403.5 203.7,404.4 205.0,404.3 206.2,403.0 207.1,401.0 207.8,398.7 208.5,396.0 209.2,393.2 210.0,390.7 210.7,389.0 211.5,388.1 212.3,387.9 213.4,387.4 214.5,385.7 215.9,382.3 217.6,380.5 219.0,383.2 220.0,386.9 220.8,389.5 221.6,391.1 222.4,391.7 223.6,391.3 224.7,391.1 225.9,392.3 227.1,394.5 228.4,396.9 230.1,398.0 231.5,396.9 232.3,394.9 232.9,392.7 233.3,390.7 233.7,388.4 234.0,385.8 234.4,383.0 234.6,381.5 234.7,380.0 234.9,378.4 235.1,376.8 235.3,375.2 235.4,373.6 235.6,371.9 235.8,370.3 236.0,368.6 236.1,366.9 236.3,365.2 236.5,363.6 236.7,361.9 236.9,360.1 237.0,358.2 237.2,356.3 237.4,354.3 237.6,352.2 237.8,350.1 238.0,348.0 238.2,345.7 238.3,343.5 238.5,341.2 238.7,338.8 238.9,336.5 239.1,334.1 239.3,331.8 239.5,329.4 239.6,327.1 239.8,324.8 240.0,322.6 240.2,320.4 240.4,318.2 240.6,316.1 240.8,314.1 240.9,312.1 241.1,310.1 241.3,308.2 241.5,306.3 241.7,304.6 241.9,302.8 242.1,301.2 242.2,299.6 242.6,296.7 243.0,294.0 243.3,291.5 243.7,289.2 244.1,287.0 244.5,284.8 244.8,282.6 245.2,280.3 245.5,278.0 245.9,275.7 246.3,273.3 246.7,271.0 247.0,268.9 247.6,266.0 248.2,263.9 248.9,262.6 249.9,262.8 251.2,264.4 252.5,264.4 254.0,262.0 255.8,260.8 257.4,264.0 258.7,266.7 259.8,266.7 260.8,265.0 261.9,263.6 263.0,264.4 264.1,268.3 265.3,272.9 266.6,275.8 267.9,274.6 269.5,271.1 271.1,272.2 272.4,276.4 273.5,279.9 274.6,281.8 275.7,282.3 276.8,282.2 278.1,282.2 279.3,283.4 280.4,285.4 281.5,287.4 282.3,289.1 283.2,290.6 284.4,292.5 285.4,294.0 286.5,295.2 287.9,296.4 289.2,297.0 290.7,297.0 292.4,296.7 294.2,297.5 295.8,299.2 297.4,300.1 298.9,299.7 300.5,299.8 301.7,299.6 302.6,298.9 303.5,297.6 304.3,295.4 305.2,292.3 306.0,288.9 306.8,285.9 307.8,283.6 309.0,283.3 310.1,284.6 311.2,285.6 312.5,284.0 313.6,280.0 314.8,275.5 315.9,273.1 317.2,274.2 318.6,279.0 319.4,282.3 320.1,284.2 320.8,285.2 321.4,285.5 322.2,285.2 323.5,284.3 325.2,285.5 326.6,288.0 327.8,289.4 328.8,289.8 329.7,290.1 330.8,291.1 331.9,292.7 333.1,294.7 333.9,296.5 334.7,298.4 335.4,300.1 336.2,301.9 336.9,303.8 337.6,305.6 338.5,307.8 339.5,309.7 340.7,311.2 342.1,312.4 343.7,313.0 345.2,313.1 346.3,313.9 347.0,314.8 347.8,316.0 348.6,317.4 349.6,319.2 351.0,321.3 352.7,321.9 354.2,320.5 355.8,319.7 357.5,321.7 359.0,325.0 360.2,327.2 361.4,328.5 362.5,329.6 363.4,330.3 364.7,330.6 366.4,329.7 368.0,328.7 369.5,327.8 371.1,327.4 372.5,328.4 373.7,330.5 374.6,332.7 375.6,335.3 376.4,337.0 377.5,338.2 378.8,338.0 380.3,336.3 381.6,335.0 382.7,334.2 384.0,333.6 385.6,333.4 387.3,334.0 389.1,333.7 391.0,331.2 392.6,331.0 394.3,334.2 396.2,335.9 397.8,332.2 399.3,328.7 400.8,329.0 402.6,331.5 404.2,331.2 405.9,329.7 407.5,331.2 409.0,334.7 410.7,336.3 412.1,334.8 413.7,332.9 415.3,331.6 416.8,330.8 418.2,331.5 419.5,334.0 420.8,336.8 422.1,337.4 423.7,335.8 425.2,335.8 426.9,339.1 428.6,342.6 429.9,343.2 431.0,342.8 432.4,342.9 434.1,343.7 435.6,342.7 436.9,340.3 438.3,338.1 439.9,338.7 441.2,340.3 442.8,339.9 444.4,338.5 446.2,338.9 447.9,340.9 449.7,341.6 451.0,339.9 452.1,337.8 453.3,335.4 454.8,334.7 456.4,337.1 458.0,339.2 459.8,337.9 461.4,335.3 463.0,335.0 464.7,336.0 466.4,333.4 468.1,328.6 469.9,329.6 471.6,335.7 473.4,336.9 475.0,332.6 476.7,330.8 478.5,333.9 480.2,334.9 482.0,331.0 484.0,329.6 485.8,332.6 487.3,334.1 488.5,334.6 489.4,335.2 490.4,336.3 491.8,337.0 492.8,336.1 493.7,334.3 494.6,332.3 496.1,330.6 497.7,330.8 499.3,332.1 500.7,333.6 502.2,335.1 503.7,336.3 505.5,336.0 506.8,334.4 508.0,332.4 509.2,330.6 510.4,329.4 511.9,329.3 513.5,328.8 514.6,327.7 515.7,326.3 516.9,324.7 518.3,323.2 519.8,322.3 521.4,322.7 523.2,323.6 524.9,323.1 526.7,320.1 528.0,317.0 528.8,315.0 529.9,314.5 531.6,318.7 533.2,322.4 534.5,322.8 536.0,321.0 537.9,320.1 539.6,322.5 541.4,322.6 543.2,318.4 545.1,315.6 546.9,318.0 548.3,320.5 549.8,321.5 551.4,322.7 552.8,325.5 554.2,328.4 556.0,328.2 557.6,324.4 558.9,321.3 560.2,319.4 561.5,318.1 563.0,317.0 564.5,316.7 566.3,318.5 567.9,320.8 569.5,321.5 570.9,320.7 572.4,320.6 574.2,322.8 575.8,324.2 577.5,321.8 579.1,318.0 580.9,318.4 582.7,322.8 584.4,323.9 586.0,321.3 587.4,320.2 589.0,322.5 590.6,324.9 592.2,323.0 593.8,319.3 595.3,318.6 596.6,320.4 597.9,322.5 599.5,323.4 601.0,323.8 602.3,324.4 603.8,324.9 605.6,324.3 607.4,324.3 609.2,324.4 611.0,321.9 612.7,318.7 614.4,320.3 616.2,325.9 617.9,328.5 619.5,327.5 621.1,325.8 622.7,325.8 624.3,327.5 625.9,330.5 627.5,332.7 629.2,331.7 630.9,328.6 632.8,327.7 634.4,328.5 635.8,326.6 637.4,322.9 638.9,322.8 640.7,326.9 642.4,328.6 644.3,324.3 645.9,321.5 647.9,324.5 649.6,327.8 651.4,327.8 652.6,327.0 653.8,326.6 655.2,326.4 657.0,325.9 658.5,325.4 659.7,324.7 661.3,323.1 662.9,321.6 664.5,322.4 666.2,325.5 668.0,326.8 669.6,325.6 671.5,326.1 673.5,328.2 675.5,327.0 677.3,326.0 679.2,328.9 681.0,331.2 682.7,329.8 684.5,328.1 686.2,327.8 687.7,326.9 689.1,325.0 690.9,324.7 692.6,328.5 694.0,331.6 695.1,332.1 696.5,330.6 698.1,328.2 699.6,327.2 700.7,327.1 701.7,326.8 702.7,325.8 704.2,323.8 705.7,322.6 707.0,323.4 708.7,326.4 710.4,328.5 712.2,327.0 714.0,325.1 715.6,326.3 717.5,327.3 719.3,324.9 720.9,324.3 722.6,327.6 724.0,330.4 725.4,330.2 726.8,328.6 728.4,329.5 730.1,332.5 731.5,332.0 732.7,328.6 734.2,325.3 736.0,326.4 737.6,329.3 739.3,328.7 741.1,326.9 742.8,328.8 744.2,331.3"/><path class="k" d="M9.0,325.9 C10.3,326.8 14.3,330.8 16.7,331.3 C19.1,331.8 20.8,329.9 23.1,329.1 C25.5,328.3 28.1,326.3 30.8,326.5 C33.5,326.7 36.5,330.6 39.1,330.4 C41.7,330.2 44.1,325.3 46.2,325.3 C48.3,325.3 49.8,329.9 51.9,330.4 C54.0,330.9 56.6,329.6 59.0,328.5 C61.4,327.4 63.8,324.2 66.0,324.0 C68.2,323.8 69.9,327.3 72.4,327.2 C74.9,327.1 77.7,323.1 80.8,323.3 C83.9,323.5 88.0,327.9 91.0,328.2 C94.0,328.5 97.0,325.9 98.8,325.3 C100.6,324.8 100.8,326.1 102.1,324.9 C103.4,323.7 105.1,319.6 106.5,318.0 C107.9,316.4 108.8,316.6 110.4,315.0 C112.0,313.4 114.8,309.2 116.2,308.2 C117.6,307.2 117.3,307.6 118.7,309.0 C120.1,310.4 122.9,314.6 124.5,316.3 C126.1,318.1 126.6,317.5 128.3,319.5 C130.0,321.5 132.5,326.6 134.7,328.5 C136.8,330.4 139.3,330.3 141.2,330.8 C143.1,331.3 144.3,331.1 146.3,331.7 C148.3,332.3 151.4,334.4 153.3,334.6 C155.2,334.8 156.3,333.7 157.8,332.9 C159.3,332.1 160.9,330.5 162.3,330.0 C163.7,329.5 164.6,330.8 166.2,330.0 C167.8,329.2 169.9,326.5 171.9,325.3 C173.9,324.1 176.1,323.9 178.3,322.7 C180.6,321.5 183.7,318.3 185.4,318.2 C187.1,318.1 187.7,319.2 188.6,322.1 C189.5,325.1 189.9,327.5 191.1,335.9 C192.3,344.3 194.6,362.5 196.0,372.7 C197.4,382.9 198.6,392.0 199.7,397.2 C200.8,402.4 201.5,403.7 202.7,404.1 C203.9,404.5 205.5,402.5 207.1,399.7 C208.7,396.9 210.2,390.3 212.0,387.4 C213.8,384.5 215.8,381.9 217.6,382.5 C219.4,383.1 221.2,388.6 223.0,391.1 C224.8,393.6 227.0,397.5 228.7,397.7 C230.3,397.9 231.6,398.5 232.9,392.3 C234.2,386.1 235.3,372.2 236.5,360.4 C237.7,348.5 239.0,333.0 240.2,321.2 C241.4,309.4 242.7,298.1 243.9,289.3 C245.1,280.5 246.3,272.9 247.6,268.4 C248.9,263.9 250.1,263.5 251.6,262.3 C253.1,261.1 254.9,260.3 256.6,261.2 C258.3,262.1 260.1,265.5 261.9,267.6 C263.7,269.7 265.8,272.6 267.3,273.7 C268.8,274.8 269.6,273.2 271.1,274.5 C272.6,275.8 275.0,279.7 276.4,281.4 C277.8,283.1 278.1,282.6 279.5,284.5 C280.9,286.4 283.1,290.7 284.9,292.9 C286.7,295.1 288.5,296.9 290.2,297.8 C291.9,298.7 293.4,297.9 294.8,298.2 C296.2,298.4 297.5,299.2 298.6,299.3 C299.8,299.4 300.3,300.5 301.7,298.7 C303.1,296.9 305.4,291.1 307.1,288.3 C308.8,285.6 310.1,284.2 311.7,282.2 C313.3,280.2 315.7,276.9 317.0,276.3 C318.3,275.7 318.4,276.9 319.3,278.3 C320.2,279.7 321.2,283.5 322.4,284.9 C323.5,286.3 324.8,285.5 326.2,286.8 C327.6,288.1 329.5,291.2 330.8,292.9 C332.1,294.5 332.6,294.3 333.9,296.7 C335.2,299.1 337.1,305.0 338.5,307.4 C339.9,309.8 341.2,310.4 342.3,311.3 C343.4,312.2 344.2,311.1 345.4,312.5 C346.5,313.9 347.8,318.1 349.2,319.7 C350.6,321.2 352.4,321.3 353.8,321.8 C355.2,322.3 356.5,322.2 357.7,322.8 C358.9,323.4 359.7,324.4 360.9,325.6 C362.1,326.8 363.1,329.6 364.7,330.1 C366.3,330.6 369.0,328.4 370.5,328.5 C372.0,328.6 372.3,329.4 373.7,331.0 C375.1,332.6 377.1,337.8 378.8,338.2 C380.5,338.6 382.2,334.6 384.0,333.6 C385.8,332.6 387.7,332.4 389.7,332.3 C391.7,332.2 394.3,333.3 396.2,333.1 C398.1,332.9 399.6,331.2 401.3,331.0 C403.0,330.8 404.9,331.4 406.4,331.8 C407.9,332.2 409.0,333.4 410.3,333.3 C411.6,333.2 412.6,331.1 414.1,331.4 C415.6,331.7 417.5,333.8 419.2,334.9 C420.9,336.0 422.9,337.6 424.4,338.2 C425.9,338.8 426.8,337.6 428.2,338.2 C429.6,338.8 431.0,341.8 432.7,341.7 C434.4,341.6 436.9,338.1 438.5,337.8 C440.1,337.5 440.6,339.2 442.3,339.7 C444.0,340.2 446.9,341.4 448.8,340.8 C450.8,340.2 452.5,336.6 454.0,335.9 C455.5,335.2 456.3,336.8 457.8,336.5 C459.3,336.2 461.2,334.7 463.0,334.0 C464.8,333.3 466.8,332.4 468.7,332.3 C470.6,332.2 472.7,333.6 474.5,333.6 C476.3,333.6 477.6,332.5 479.6,332.3 C481.6,332.1 484.8,331.5 486.7,332.3 C488.6,333.1 489.8,337.2 491.2,337.2 C492.6,337.2 493.7,332.9 495.0,332.1 C496.3,331.3 497.2,331.8 498.8,332.3 C500.4,332.8 502.7,335.7 504.6,335.3 C506.5,334.9 509.0,331.1 510.4,330.1 C511.8,329.1 511.7,330.1 512.9,329.2 C514.1,328.2 515.9,325.6 517.4,324.4 C518.9,323.2 520.3,322.6 521.9,322.1 C523.5,321.6 525.7,322.0 527.1,321.2 C528.5,320.4 528.7,317.4 530.3,317.3 C531.9,317.2 534.2,320.4 536.7,320.8 C539.2,321.2 542.8,319.7 545.1,319.9 C547.4,320.1 548.5,321.3 550.3,322.1 C552.1,322.9 554.0,325.1 556.0,324.6 C558.0,324.1 560.5,320.1 562.4,319.2 C564.3,318.3 565.8,318.7 567.6,319.2 C569.4,319.7 571.3,322.2 573.3,322.4 C575.3,322.6 577.7,320.6 579.7,320.3 C581.7,320.0 583.8,320.3 585.5,320.8 C587.2,321.3 588.6,322.8 590.0,323.3 C591.4,323.8 592.3,324.2 593.8,323.7 C595.3,323.2 597.3,320.5 599.0,320.5 C600.7,320.5 602.4,323.2 604.1,323.7 C605.8,324.2 607.5,323.2 609.2,323.3 C610.9,323.4 612.5,324.1 614.4,324.4 C616.3,324.7 618.7,324.5 620.8,325.0 C622.9,325.5 625.1,326.8 627.2,327.2 C629.3,327.6 632.0,327.5 633.6,327.2 C635.2,326.9 635.7,325.7 636.8,325.6 C637.9,325.5 638.3,326.8 640.4,326.5 C642.5,326.2 647.0,323.6 649.6,323.8 C652.2,324.1 653.8,328.0 655.8,328.0 C657.8,328.0 659.7,324.3 661.9,323.8 C664.1,323.3 666.1,324.2 668.8,324.9 C671.5,325.5 675.5,327.1 678.1,327.7 C680.7,328.3 682.0,329.0 684.2,328.5 C686.4,328.0 688.9,324.6 691.2,324.9 C693.5,325.2 696.1,330.6 698.1,330.5 C700.1,330.4 701.8,325.0 703.5,324.3 C705.2,323.6 706.2,326.3 708.1,326.5 C710.0,326.7 712.8,325.4 715.0,325.4 C717.2,325.4 719.0,325.5 721.2,326.5 C723.4,327.5 726.1,331.2 728.1,331.5 C730.1,331.8 731.8,328.7 733.5,328.0 C735.2,327.3 736.3,327.3 738.1,327.4 C739.9,327.5 743.2,328.3 744.2,328.5"/>
<path class="g" d="M8.7,498.0 9.7,494.3 10.9,490.8 11.8,489.4 13.0,489.6 14.3,491.4 15.9,493.7 17.2,494.0 18.9,491.7 20.2,489.5 21.8,488.0 23.5,487.6 24.9,489.0 26.3,492.1 27.6,495.2 28.6,496.4 29.7,496.2 30.9,495.6 32.4,496.8 33.6,498.7 34.7,499.9 36.3,498.5 37.9,494.7 39.2,494.0 40.7,497.2 41.9,500.5 43.2,500.8 44.9,498.2 46.1,497.6 47.2,498.7 48.2,499.6 49.2,498.7 50.2,495.9 51.5,491.1 53.0,490.0 54.0,492.4 55.1,495.2 56.7,496.4 58.5,495.8 60.3,497.3 61.8,499.1 63.0,499.3 64.3,499.0 65.9,500.0 67.6,502.2 69.3,502.1 70.8,500.3 72.2,499.5 73.6,499.7 75.1,498.6 76.7,496.9 78.2,497.4 79.6,499.5 81.0,500.8 82.5,499.5 84.3,498.1 85.9,499.6 87.4,501.1 88.8,500.2 90.0,497.8 91.7,495.9 93.3,497.1 94.9,498.6 96.3,497.5 97.6,495.8 99.2,495.0 100.6,495.0 102.0,495.8 103.3,498.1 104.9,500.5 106.2,499.8 107.3,497.6 108.3,495.1 109.4,493.6 110.9,494.5 112.2,497.1 113.2,498.8 114.5,499.8 116.2,498.8 117.3,497.0 118.2,495.1 119.1,493.2 120.2,491.2 122.0,490.5 123.6,492.2 125.3,493.8 127.0,493.4 128.5,492.9 130.0,493.7 131.4,495.6 132.7,497.3 134.3,498.5 135.8,499.4 137.5,499.8 138.9,499.9 140.5,499.5 141.7,498.7 142.9,497.9 144.2,497.7 146.0,498.2 147.8,498.6 149.3,497.3 150.8,495.1 152.3,494.7 153.6,496.7 154.8,498.9 156.3,498.9 158.1,496.9 159.9,498.8 161.7,503.7 163.3,502.2 164.8,495.9 166.4,492.3 168.0,495.6 169.8,501.0 171.4,501.2 172.8,499.8 174.1,500.1 175.5,501.9 176.9,503.4 178.5,503.8 180.0,503.5 180.9,502.2 181.8,500.0 182.5,497.0 183.4,493.3 184.2,489.4 185.0,486.5 185.8,484.9 186.4,484.3 187.1,484.0 187.7,483.5 188.3,482.6 189.1,480.6 189.7,478.1 190.4,475.2 191.0,472.5 192.3,471.5 193.4,474.3 194.2,477.5 194.8,480.0 195.4,482.4 195.9,484.0 196.3,485.7 196.7,487.5 197.0,488.8 197.4,490.3 197.7,491.9 198.0,493.7 198.3,495.9 198.7,498.4 199.1,501.2 199.5,504.3 199.8,507.6 200.2,510.8 200.6,513.8 201.0,516.6 201.4,518.9 201.8,520.8 202.2,522.3 202.6,523.7 203.0,524.8 203.4,525.9 203.8,527.0 204.1,528.1 204.5,529.4 204.9,530.9 205.5,533.3 206.3,536.6 207.8,541.3 209.3,541.6 210.8,540.4 212.3,540.8 213.7,541.2 214.4,539.8 215.0,537.7 215.6,534.9 216.2,531.6 216.8,528.1 217.4,525.1 218.1,522.7 218.8,521.5 219.6,521.2 220.3,521.3 221.0,521.0 221.6,519.9 222.3,517.7 223.0,514.4 223.8,510.5 224.8,506.8 225.9,505.2 227.1,506.1 228.3,507.4 229.4,506.7 230.3,504.5 231.0,501.8 231.9,498.5 232.8,495.8 234.1,494.3 235.5,494.0 236.7,493.7 237.9,492.5 239.1,490.5 240.3,488.1 241.4,486.4 242.6,485.8 243.8,485.7 244.9,484.7 245.9,482.4 246.9,479.3 248.0,476.0 249.2,474.0 250.8,474.7 252.3,475.5 253.6,475.6 254.5,476.8 255.2,479.4 255.7,482.3 256.1,485.8 256.5,489.7 257.0,493.7 257.4,497.4 258.0,501.6 258.6,504.5 259.3,506.3 260.3,505.8 261.4,503.0 262.7,501.0 264.2,502.8 265.9,505.2 267.5,502.5 268.9,498.8 270.3,497.4 271.6,498.1 273.0,498.4 274.4,497.3 275.9,496.7 277.4,498.0 278.8,498.8 280.2,496.9 281.6,493.2 282.8,490.8 284.1,490.3 285.7,491.8 287.3,492.5 288.6,491.4 289.7,490.7 291.1,490.6 292.7,491.1 294.2,491.1 295.8,489.4 297.0,487.9 298.4,486.5 300.1,484.5 301.8,482.3 303.3,482.1 304.4,483.9 305.5,486.7 306.9,489.5 308.4,489.7 309.5,488.6 310.9,488.2 312.5,490.9 313.7,493.7 314.6,495.1 315.5,495.3 316.6,493.9 318.3,491.1 319.8,490.1 321.0,490.4 322.6,491.1 324.3,492.0 325.9,494.3 327.1,497.0 328.2,498.8 329.2,500.2 330.0,501.3 330.8,502.8 331.8,505.6 333.4,509.3 335.0,507.6 336.3,501.8 337.5,496.6 338.9,495.7 340.6,500.5 342.3,503.5 343.6,502.4 345.2,499.9 346.3,499.0 347.0,498.7 347.7,498.3 348.4,497.4 349.0,496.2 350.1,493.9 351.6,492.4 352.9,494.0 354.1,496.8 355.2,499.4 356.0,500.8 357.2,501.1 358.7,499.6 360.1,497.1 361.3,494.6 362.5,492.2 364.0,491.0 365.3,492.4 366.3,494.4 367.3,496.3 368.3,497.6 369.2,498.7 370.4,500.5 372.1,504.2 373.7,506.2 375.0,505.4 376.1,503.0 377.3,500.1 378.4,497.9 379.7,496.5 381.3,496.3 382.7,497.3 384.3,499.4 385.9,500.7 387.5,498.8 388.9,496.3 390.6,494.8 391.9,496.2 393.4,497.6 394.9,496.0 396.5,493.5 397.7,493.7 399.4,496.0 401.0,497.1 402.3,495.8 403.8,493.5 405.5,492.6 407.2,493.1 408.5,492.4 409.7,490.9 411.1,490.1 412.3,491.8 413.4,493.9 414.9,495.1 416.6,494.5 418.2,493.4 419.6,492.6 420.8,491.9 422.1,491.1 423.6,490.5 425.2,489.1 426.2,487.0 427.2,484.8 428.2,482.7 429.6,480.6 431.1,479.7 432.7,480.3 434.1,482.4 435.0,484.7 435.8,486.8 436.4,488.4 437.3,489.5 438.7,487.8 439.9,484.2 441.1,480.5 442.8,478.7 444.2,480.8 445.5,484.1 447.0,487.0 448.3,487.8 449.7,488.2 451.1,490.3 452.6,494.9 454.1,497.3 455.6,496.6 457.1,495.7 458.2,496.4 459.4,498.1 461.0,499.3 462.8,497.4 464.5,496.7 465.9,499.5 467.0,502.2 468.4,502.4 469.9,498.6 471.3,495.8 472.7,497.1 474.3,501.4 475.8,503.4 477.2,501.9 478.8,499.0 480.4,498.4 481.9,500.0 483.5,502.5 485.2,504.0 486.5,503.0 487.6,500.5 488.3,498.1 489.0,495.6 490.3,493.4 491.7,494.7 492.5,496.5 493.3,498.6 494.1,500.7 495.1,502.8 496.8,503.3 497.9,501.5 498.8,499.1 499.7,496.4 500.5,494.0 501.4,491.9 502.3,490.6 503.1,490.3 504.2,490.8 505.6,492.1 506.4,492.5 507.2,492.6 508.3,492.8 510.0,494.4 511.8,496.4 513.6,494.0 515.1,491.6 516.7,493.3 518.2,498.3 519.5,501.4 520.8,502.4 522.1,502.1 523.3,502.0 524.8,501.7 526.5,500.5 528.1,500.7 529.7,503.8 531.1,506.7 532.6,506.2 534.0,503.1 535.1,501.0 536.5,501.4 538.2,504.5 539.8,505.2 541.3,503.5 542.9,502.1 544.4,501.9 546.0,500.8 547.4,498.9 548.6,497.5 549.8,496.6 551.0,496.2 552.1,495.6 553.5,494.6 555.1,493.8 556.6,493.5 558.1,492.8 559.5,491.1 561.1,488.9 562.8,487.2 564.5,486.5 566.2,486.5 567.7,487.3 569.5,489.1 571.0,490.9 572.6,492.2 574.1,491.4 575.8,489.0 577.4,488.8 578.7,492.0 580.1,496.5 581.4,498.5 582.6,497.8 583.7,496.5 585.3,496.8 586.9,499.7 588.5,501.4 589.9,500.4 591.0,499.2 592.1,499.6 593.5,502.2 594.8,505.1 596.4,505.8 597.8,504.1 598.8,502.5 599.9,501.0 600.9,499.5 602.5,497.9 603.7,498.6 604.7,500.7 605.7,503.4 607.0,506.1 608.5,505.8 609.8,503.7 610.8,502.0 611.8,500.8 613.1,499.3 614.8,497.5 616.4,497.6 617.8,499.9 619.5,502.1 621.3,500.7 623.1,499.2 624.7,500.4 626.3,500.6 628.0,497.4 629.4,495.1 631.0,497.1 632.5,500.6 633.9,500.6 635.5,498.1 636.6,497.9 637.7,500.3 639.3,503.9 640.5,503.7 641.7,500.6 643.1,497.1 645.0,499.3 646.7,501.3 648.4,499.0 649.9,497.3 651.1,497.9 652.3,498.6 653.4,497.8 654.7,495.0 656.4,493.0 658.0,494.8 659.4,496.6 660.4,497.3 661.3,497.9 662.3,498.4 663.2,499.4 664.1,501.0 665.3,502.1 667.0,500.2 668.1,497.9 669.2,496.5 670.6,496.3 672.4,495.3 674.2,492.8 675.8,493.1 677.5,496.2 679.0,497.7 680.8,497.5 682.5,498.3 683.8,498.7 685.1,497.5 686.9,494.4 688.4,494.2 689.8,497.1 691.5,500.0 692.9,499.5 694.1,497.9 695.5,498.0 697.3,501.3 698.8,502.5 700.4,501.2 701.8,500.0 703.4,500.1 705.0,500.9 706.5,501.7 708.2,502.6 710.0,502.1 711.6,501.1 713.4,501.8 715.2,503.5 716.8,503.8 718.2,503.4 719.8,503.2 721.4,502.2 722.5,500.0 723.4,497.6 724.6,494.8 726.0,492.7 727.4,491.3 729.1,489.4 730.4,488.8 731.7,490.7 733.2,495.9 734.6,501.5 736.2,503.7 737.7,502.8 739.2,502.8 740.9,505.1 742.6,505.9 744.4,503.1 744.7,502.6"/><path class="g" d="M8.7,499.4 9.7,497.2 10.9,494.1 11.8,491.8 13.0,489.5 14.3,488.2 15.9,489.3 17.2,491.6 18.9,492.5 20.2,490.1 21.8,487.0 23.5,488.9 24.9,493.4 26.3,496.7 27.6,496.8 28.6,495.8 29.7,495.6 30.9,497.1 32.4,498.6 33.6,497.1 34.7,494.3 36.3,492.3 37.9,493.9 39.2,496.6 40.7,498.8 41.9,500.4 43.2,502.2 44.9,503.1 46.1,501.2 47.2,498.2 48.2,494.8 49.2,492.1 50.2,490.7 51.5,491.0 53.0,493.4 54.0,495.8 55.1,497.4 56.7,497.3 58.5,495.5 60.3,495.1 61.8,497.2 63.0,499.8 64.3,501.6 65.9,501.7 67.6,501.3 69.3,501.5 70.8,500.4 72.2,498.3 73.6,496.9 75.1,497.5 76.7,499.4 78.2,500.0 79.6,499.4 81.0,499.3 82.5,500.1 84.3,500.4 85.9,498.6 87.4,496.8 88.8,496.8 90.0,497.9 91.7,499.2 93.3,499.2 94.9,498.0 96.3,496.4 97.6,496.1 99.2,497.6 100.6,497.6 102.0,496.3 103.3,495.9 104.9,497.4 106.2,498.6 107.3,498.0 108.3,496.0 109.4,493.4 110.9,492.5 112.2,496.0 113.2,499.8 114.5,502.2 116.2,498.4 117.3,493.8 118.2,491.1 119.1,490.5 120.2,492.3 122.0,495.3 123.6,494.2 125.3,492.5 127.0,493.9 128.5,495.6 130.0,494.9 131.4,493.3 132.7,493.4 134.3,496.1 135.8,499.3 137.5,500.4 138.9,500.1 140.5,499.8 141.7,499.1 142.9,498.2 144.2,497.3 146.0,497.5 147.8,499.4 149.3,499.8 150.8,497.2 152.3,493.9 153.6,493.5 154.8,495.8 156.3,499.6 158.1,500.6 159.9,498.3 161.7,498.5 163.3,500.5 164.8,500.0 166.4,497.1 168.0,495.8 169.8,499.1 171.4,501.9 172.8,501.2 174.1,499.1 175.5,498.5 176.9,500.7 178.5,503.6 180.0,503.7 180.9,501.9 181.8,499.6 182.5,497.3 183.4,494.9 184.2,492.3 185.0,489.7 185.8,487.3 186.4,485.2 187.1,483.4 187.7,481.9 188.3,480.7 189.1,479.8 189.7,479.2 190.4,478.8 191.0,478.2 192.3,479.1 193.4,480.1 194.2,480.7 194.8,481.3 195.4,482.3 195.9,483.3 196.3,484.6 196.7,486.3 197.0,487.6 197.4,489.1 197.7,490.8 198.0,492.7 198.3,494.8 198.7,497.3 199.1,500.0 199.5,502.9 199.8,505.9 200.2,509.0 200.6,512.1 201.0,515.0 201.4,517.7 201.8,520.1 202.2,522.3 202.6,524.5 203.0,526.4 203.4,528.3 203.8,529.9 204.1,531.4 204.5,532.7 204.9,533.9 205.5,535.4 206.3,537.0 207.8,539.4 209.3,540.9 210.8,540.9 212.3,538.3 213.7,535.5 214.4,534.3 215.0,533.7 215.6,533.2 216.2,532.8 216.8,532.3 217.4,531.5 218.1,529.9 218.8,527.7 219.6,524.9 220.3,522.0 221.0,519.5 221.6,517.5 222.3,515.6 223.0,514.0 223.8,512.4 224.8,510.6 225.9,508.6 227.1,506.9 228.3,505.8 229.4,504.7 230.3,503.1 231.0,501.1 231.9,498.7 232.8,496.9 234.1,496.8 235.5,498.6 236.7,499.2 237.9,497.3 239.1,493.6 240.3,490.5 241.4,489.6 242.6,490.6 243.8,490.8 244.9,488.7 245.9,485.1 246.9,481.3 248.0,478.7 249.2,478.3 250.8,480.9 252.3,483.5 253.6,484.6 254.5,485.5 255.2,486.6 255.7,487.9 256.1,489.5 256.5,491.1 257.0,492.8 257.4,494.4 258.0,496.2 258.6,497.9 259.3,500.1 260.3,502.7 261.4,505.0 262.7,505.7 264.2,505.1 265.9,505.7 267.5,507.6 268.9,506.8 270.3,502.6 271.6,498.3 273.0,497.8 274.4,501.0 275.9,503.6 277.4,501.3 278.8,496.1 280.2,492.3 281.6,490.9 282.8,490.8 284.1,491.4 285.7,494.0 287.3,496.8 288.6,496.5 289.7,494.8 291.1,492.5 292.7,491.2 294.2,490.0 295.8,486.1 297.0,484.0 298.4,484.6 300.1,487.9 301.8,489.4 303.3,489.7 304.4,490.8 305.5,492.2 306.9,492.1 308.4,488.7 309.5,486.9 310.9,488.6 312.5,494.6 313.7,497.3 314.6,497.4 315.5,496.3 316.6,495.3 318.3,496.4 319.8,497.3 321.0,495.7 322.6,493.4 324.3,495.2 325.9,498.6 327.1,499.4 328.2,498.8 329.2,499.1 330.0,500.5 330.8,503.0 331.8,506.7 333.4,509.3 335.0,507.0 336.3,504.9 337.5,504.6 338.9,505.2 340.6,503.3 342.3,500.2 343.6,500.3 345.2,501.9 346.3,501.5 347.0,500.3 347.7,498.6 348.4,496.6 349.0,494.8 350.1,492.7 351.6,491.8 352.9,492.5 354.1,493.9 355.2,496.4 356.0,498.7 357.2,500.8 358.7,500.8 360.1,499.3 361.3,498.6 362.5,498.4 364.0,497.6 365.3,496.3 366.3,496.1 367.3,497.5 368.3,500.6 369.2,504.5 370.4,508.5 372.1,509.8 373.7,507.2 375.0,503.7 376.1,499.9 377.3,496.0 378.4,493.7 379.7,494.5 381.3,499.1 382.7,501.7 384.3,499.6 385.9,497.0 387.5,497.9 388.9,499.6 390.6,497.1 391.9,494.6 393.4,494.5 394.9,496.2 396.5,496.9 397.7,496.5 399.4,495.7 401.0,495.1 402.3,493.6 403.8,491.8 405.5,493.1 407.2,495.3 408.5,493.1 409.7,489.3 411.1,487.3 412.3,490.9 413.4,495.6 414.9,497.8 416.6,494.4 418.2,492.0 419.6,492.6 420.8,492.7 422.1,490.8 423.6,488.4 425.2,488.3 426.2,488.6 427.2,488.3 428.2,487.2 429.6,485.1 431.1,483.9 432.7,483.5 434.1,483.4 435.0,484.2 435.8,485.9 436.4,488.0 437.3,490.9 438.7,493.5 439.9,492.0 441.1,488.4 442.8,486.0 444.2,488.7 445.5,492.9 447.0,495.8 448.3,496.9 449.7,498.3 451.1,500.1 452.6,499.9 454.1,496.1 455.6,493.7 457.1,495.7 458.2,497.7 459.4,498.1 461.0,496.5 462.8,496.4 464.5,499.4 465.9,501.6 467.0,502.5 468.4,502.8 469.9,501.6 471.3,498.6 472.7,495.0 474.3,494.4 475.8,497.9 477.2,501.4 478.8,502.4 480.4,502.4 481.9,503.6 483.5,504.0 485.2,501.3 486.5,499.2 487.6,498.7 488.3,498.5 489.0,498.3 490.3,497.4 491.7,495.9 492.5,495.5 493.3,495.9 494.1,497.4 495.1,500.1 496.8,502.1 497.9,500.7 498.8,498.8 499.7,497.3 500.5,496.4 501.4,495.5 502.3,494.1 503.1,492.2 504.2,489.6 505.6,488.5 506.4,489.6 507.2,491.6 508.3,493.9 510.0,494.3 511.8,492.9 513.6,495.0 515.1,498.4 516.7,499.2 518.2,497.3 519.5,496.1 520.8,496.9 522.1,499.4 523.3,502.3 524.8,504.4 526.5,503.8 528.1,501.7 529.7,501.2 531.1,502.8 532.6,505.0 534.0,504.7 535.1,503.5 536.5,502.8 538.2,503.8 539.8,503.7 541.3,502.4 542.9,503.0 544.4,505.9 546.0,506.8 547.4,504.7 548.6,503.1 549.8,503.5 551.0,504.8 552.1,504.1 553.5,499.3 555.1,492.7 556.6,492.3 558.1,495.9 559.5,497.6 561.1,496.3 562.8,496.1 564.5,498.0 566.2,496.6 567.7,492.9 569.5,491.7 571.0,493.7 572.6,494.1 574.1,492.0 575.8,490.4 577.4,490.5 578.7,490.7 580.1,491.7 581.4,494.1 582.6,497.4 583.7,499.7 585.3,499.5 586.9,497.5 588.5,498.6 589.9,500.6 591.0,501.0 592.1,500.8 593.5,501.9 594.8,505.4 596.4,508.5 597.8,506.0 598.8,502.2 599.9,498.9 600.9,497.8 602.5,499.1 603.7,500.5 604.7,501.0 605.7,501.6 607.0,503.5 608.5,506.2 609.8,506.1 610.8,503.5 611.8,499.7 613.1,495.9 614.8,495.9 616.4,498.7 617.8,501.0 619.5,502.4 621.3,502.6 623.1,500.1 624.7,497.9 626.3,498.6 628.0,500.2 629.4,499.2 631.0,497.5 632.5,498.8 633.9,500.9 635.5,500.6 636.6,498.5 637.7,496.5 639.3,496.6 640.5,498.4 641.7,499.7 643.1,500.7 645.0,503.2 646.7,503.7 648.4,500.4 649.9,497.6 651.1,497.4 652.3,497.7 653.4,496.6 654.7,493.0 656.4,489.7 658.0,492.9 659.4,498.4 660.4,501.6 661.3,502.8 662.3,502.5 663.2,501.9 664.1,501.7 665.3,502.0 667.0,501.6 668.1,500.5 669.2,499.8 670.6,500.4 672.4,501.3 674.2,499.8 675.8,498.6 677.5,500.4 679.0,502.6 680.8,503.2 682.5,501.8 683.8,500.0 685.1,498.6 686.9,498.4 688.4,499.7 689.8,501.4 691.5,502.3 692.9,501.5 694.1,500.3 695.5,499.4 697.3,498.4 698.8,498.0 700.4,499.3 701.8,501.4 703.4,501.8 705.0,500.3 706.5,500.4 708.2,502.9 710.0,502.7 711.6,500.6 713.4,502.1 715.2,506.3 716.8,506.2 718.2,503.4 719.8,501.3 721.4,501.0 722.5,500.0 723.4,498.6 724.6,497.3 726.0,497.5 727.4,499.0 729.1,498.8 730.4,497.0 731.7,496.2 733.2,498.3 734.6,501.9 736.2,502.8 737.7,500.8 739.2,500.1 740.9,502.9 742.6,505.8 744.4,505.1 744.7,504.8"/><path class="k" d="M8.7,496.7 C9.6,495.6 12.6,490.8 14.1,489.9 C15.6,489.0 16.6,491.6 17.9,491.5 C19.2,491.4 20.4,489.5 21.8,489.6 C23.2,489.7 24.7,490.7 26.3,492.2 C27.9,493.7 29.9,498.1 31.4,498.6 C32.9,499.1 33.9,495.2 35.3,495.0 C36.7,494.8 38.1,496.4 39.7,497.3 C41.3,498.2 43.0,501.3 44.9,500.5 C46.8,499.7 49.6,493.2 51.3,492.4 C53.0,491.6 53.7,495.1 55.1,495.8 C56.5,496.5 57.6,495.3 59.6,496.3 C61.6,497.3 65.2,501.3 67.3,501.8 C69.4,502.3 70.8,499.9 72.4,499.2 C74.0,498.4 75.4,497.1 76.9,497.3 C78.4,497.5 79.9,500.0 81.4,500.5 C82.9,501.0 84.3,501.2 85.9,500.5 C87.5,499.8 89.5,496.8 91.0,496.3 C92.5,495.8 93.8,497.5 94.9,497.3 C96.0,497.1 96.5,495.3 97.6,495.3 C98.7,495.3 100.1,496.7 101.4,497.4 C102.7,498.1 103.8,500.2 105.3,499.7 C106.8,499.2 108.7,494.6 110.4,494.4 C112.1,494.2 113.9,498.9 115.5,498.5 C117.1,498.1 118.4,493.3 120.0,492.3 C121.6,491.3 123.5,492.3 125.1,492.7 C126.7,493.1 128.2,493.8 129.6,494.6 C131.0,495.5 132.2,497.1 133.5,497.8 C134.8,498.6 136.1,498.7 137.3,499.1 C138.5,499.5 139.4,500.7 140.5,500.4 C141.6,500.1 142.5,497.9 143.7,497.4 C144.9,496.9 146.3,497.5 147.6,497.2 C148.9,496.9 150.1,495.4 151.4,495.6 C152.7,495.8 153.7,497.8 155.3,498.5 C156.9,499.2 159.3,500.1 161.0,500.0 C162.7,499.9 164.0,498.6 165.5,498.2 C167.0,497.8 168.5,497.0 170.0,497.4 C171.5,497.8 173.1,499.8 174.5,500.8 C175.9,501.8 177.2,503.3 178.3,503.3 C179.4,503.3 179.6,503.5 180.9,501.0 C182.2,498.5 184.5,491.9 186.0,488.2 C187.5,484.5 188.9,480.8 189.9,478.6 C190.9,476.5 191.1,475.0 191.9,475.3 C192.8,475.6 194.0,477.4 195.0,480.7 C196.0,484.0 196.9,488.9 198.0,495.2 C199.1,501.4 200.5,511.1 201.8,518.2 C203.1,525.4 204.4,534.6 205.7,538.1 C207.0,541.6 208.2,539.0 209.5,539.3 C210.8,539.5 212.0,541.3 213.3,539.6 C214.6,537.9 215.8,532.7 217.2,528.9 C218.6,525.1 220.5,519.8 221.8,516.7 C223.1,513.6 223.5,512.4 224.8,510.5 C226.1,508.6 228.1,507.0 229.4,505.2 C230.7,503.4 231.3,501.3 232.5,499.8 C233.7,498.3 234.9,497.8 236.3,496.4 C237.7,495.0 239.6,492.8 240.9,491.4 C242.2,490.0 242.8,489.8 244.0,488.3 C245.2,486.8 246.7,483.5 247.8,482.2 C248.9,480.9 249.7,480.3 250.8,480.7 C252.0,481.1 253.5,481.8 254.7,484.5 C255.8,487.2 256.7,493.7 257.7,496.8 C258.7,499.9 259.5,501.7 260.8,503.2 C262.1,504.7 263.7,505.9 265.4,505.9 C267.1,505.8 269.0,504.0 270.8,502.9 C272.6,501.8 274.6,500.2 276.1,499.1 C277.6,498.0 278.6,497.6 280.0,496.5 C281.4,495.4 283.3,493.2 284.5,492.7 C285.7,492.2 285.9,493.8 287.1,493.3 C288.3,492.8 290.2,490.0 291.5,489.5 C292.8,489.0 293.5,490.8 294.7,490.5 C295.9,490.2 297.3,488.0 298.6,487.6 C299.9,487.2 301.0,487.1 302.4,488.0 C303.8,488.9 305.4,492.4 306.9,492.7 C308.4,493.0 309.7,488.9 311.4,489.7 C313.1,490.5 315.4,496.6 317.2,497.4 C319.0,498.2 320.6,494.4 322.3,494.4 C324.0,494.4 325.7,495.5 327.4,497.4 C329.1,499.2 330.9,504.8 332.6,505.5 C334.3,506.2 336.2,502.5 337.7,501.7 C339.2,500.9 340.2,500.7 341.5,500.8 C342.8,500.9 344.0,503.4 345.4,502.1 C346.8,500.9 348.5,494.5 349.9,493.3 C351.3,492.1 352.3,493.7 353.7,494.9 C355.1,496.1 356.5,500.3 358.2,500.4 C359.9,500.5 362.0,495.0 364.0,495.6 C366.0,496.2 368.6,503.1 370.4,504.2 C372.2,505.3 373.5,503.5 375.0,502.3 C376.5,501.1 378.1,497.8 379.5,497.2 C380.9,496.6 382.0,498.5 383.3,498.5 C384.6,498.5 386.1,497.4 387.2,497.4 C388.3,497.3 388.4,498.7 389.7,498.2 C391.0,497.7 393.4,494.9 394.9,494.6 C396.4,494.3 397.2,496.7 398.7,496.5 C400.2,496.3 402.3,494.2 403.8,493.6 C405.3,493.0 406.5,493.6 407.7,493.1 C408.9,492.6 409.8,490.4 410.9,490.5 C412.0,490.6 412.8,493.1 414.1,493.6 C415.4,494.1 417.2,494.1 418.6,493.6 C420.0,493.1 421.3,491.1 422.4,490.5 C423.5,489.9 423.9,490.6 425.0,489.7 C426.1,488.8 427.5,486.1 428.8,485.0 C430.1,483.9 431.7,483.3 432.7,483.3 C433.7,483.3 433.8,483.6 434.6,485.0 C435.5,486.4 436.6,490.9 437.8,491.4 C439.0,491.9 440.4,488.4 441.7,488.2 C443.0,488.0 443.8,488.9 445.5,490.1 C447.2,491.3 450.2,494.9 451.9,495.6 C453.6,496.3 454.4,493.9 455.8,494.4 C457.2,494.9 458.8,497.8 460.3,498.5 C461.8,499.2 463.3,498.0 464.7,498.5 C466.1,499.0 467.2,501.4 468.6,501.3 C470.0,501.2 471.7,498.4 473.2,498.2 C474.7,498.0 476.0,499.8 477.7,500.4 C479.4,501.0 482.0,502.0 483.5,502.1 C485.0,502.2 485.5,502.0 486.7,500.8 C487.9,499.6 489.0,494.6 490.5,494.9 C492.0,495.1 494.0,502.0 495.6,502.3 C497.2,502.6 498.6,498.7 500.1,496.5 C501.6,494.3 503.0,489.5 504.4,489.2 C505.8,488.9 507.0,493.7 508.5,494.6 C510.0,495.5 511.9,494.0 513.6,494.4 C515.3,494.8 517.0,495.9 518.7,497.2 C520.4,498.5 522.3,501.4 523.8,502.3 C525.3,503.2 526.3,502.4 527.7,502.9 C529.1,503.4 530.7,505.4 532.2,505.1 C533.7,504.8 535.1,501.5 536.7,501.3 C538.3,501.1 540.2,503.2 541.8,503.8 C543.4,504.4 544.6,505.5 546.3,504.6 C548.0,503.7 550.3,500.0 552.1,498.5 C553.9,497.0 555.9,496.4 557.2,495.6 C558.5,494.9 558.4,494.5 559.7,494.0 C561.0,493.5 563.4,492.8 565.0,492.7 C566.6,492.6 567.9,493.9 569.5,493.6 C571.1,493.3 573.1,491.2 574.6,491.0 C576.1,490.8 576.9,490.9 578.5,492.1 C580.1,493.3 582.6,497.2 584.2,498.2 C585.8,499.2 586.7,497.5 588.1,498.2 C589.5,498.9 591.1,501.1 592.6,502.3 C594.1,503.5 595.5,505.6 597.1,505.1 C598.7,504.6 600.5,499.1 602.2,499.1 C603.9,499.1 605.4,505.2 607.3,505.1 C609.2,505.0 611.8,499.1 613.7,498.2 C615.6,497.3 617.2,499.4 618.8,499.7 C620.4,500.0 621.8,499.9 623.3,500.0 C624.8,500.1 626.5,500.2 627.8,500.0 C629.1,499.8 629.8,498.4 631.0,498.5 C632.2,498.6 633.6,501.0 634.9,500.8 C636.2,500.6 637.4,497.3 638.7,497.2 C640.0,497.1 640.9,499.9 642.6,500.4 C644.3,500.9 647.0,501.0 649.0,500.0 C651.0,499.0 653.0,495.1 654.7,494.4 C656.4,493.7 658.0,494.7 659.2,495.6 C660.4,496.5 661.0,498.2 662.1,499.6 C663.2,501.0 664.5,504.1 665.9,504.1 C667.3,504.2 668.8,500.6 670.4,499.9 C672.0,499.2 673.7,499.5 675.5,499.9 C677.3,500.3 679.6,502.3 681.3,502.2 C683.0,502.1 684.1,499.1 685.8,499.0 C687.5,498.9 689.8,501.6 691.5,501.5 C693.2,501.4 694.1,498.0 696.0,498.1 C697.9,498.2 701.3,501.8 703.1,502.4 C704.9,503.0 705.5,501.6 706.9,501.5 C708.3,501.4 709.9,501.4 711.4,501.5 C712.9,501.6 714.4,501.8 715.9,502.2 C717.4,502.6 719.0,504.5 720.4,504.1 C721.8,503.7 722.8,500.9 724.2,499.6 C725.6,498.3 727.4,496.6 728.7,496.4 C730.0,496.2 730.6,497.8 731.9,498.6 C733.2,499.4 735.1,500.5 736.4,501.2 C737.7,501.9 738.2,502.5 739.6,502.8 C741.0,503.1 743.9,503.1 744.7,503.2"/>
<g style="font-size:22.8px" fill="#000">
<text transform="translate(19.4,129.1) scale(1.012,1)">Unmasked</text>
<text transform="translate(18.8,303.5) scale(1.012,1)">Masked</text>
<text transform="translate(19.2,475.0) scale(1.012,1)">mABR</text>
</g>
<line x1="641.4" y1="379.2" x2="641.4" y2="465" stroke="#000" stroke-width="2.8"/>
<path d="M763 0H583V1147Q518 1085 412 1023Q307 961 223 930V1104Q374 1175 487 1276Q600 1377 647 1472H763Z" transform="translate(663.70,432.80) scale(0.01099,-0.01099)"/><text x="679" y="432.8" style="font-size:22.5px"><tspan style="font-family:&quot;Liberation Serif&quot;,serif;font-style:italic">μ</tspan><tspan dx="0.5">V</tspan></text>
<line x1="7.05" y1="583.3" x2="766.5" y2="583.3" stroke="#000" stroke-width="1.5"/>
<g stroke="#000" stroke-width="1.4"><line x1="7.05" y1="576" x2="7.05" y2="584" /><line x1="91.43" y1="576" x2="91.43" y2="584" /><line x1="175.81" y1="576" x2="175.81" y2="584" /><line x1="260.19" y1="576" x2="260.19" y2="584" /><line x1="344.57" y1="576" x2="344.57" y2="584" /><line x1="428.95" y1="576" x2="428.95" y2="584" /><line x1="513.33" y1="576" x2="513.33" y2="584" /><line x1="597.71" y1="576" x2="597.71" y2="584" /><line x1="682.09" y1="576" x2="682.09" y2="584" /><line x1="766.47" y1="576" x2="766.47" y2="584" /></g>
<g style="font-size:23.0px" fill="#000"><text x="0.25" y="608.90">0</text><text x="84.63" y="608.90">2</text><text x="169.01" y="608.90">4</text><text x="253.39" y="608.90">6</text><text x="337.77" y="608.90">8</text><path d="M763 0H583V1147Q518 1085 412 1023Q307 961 223 930V1104Q374 1175 487 1276Q600 1377 647 1472H763Z" transform="translate(415.76,608.90) scale(0.01123,-0.01123)"/><text x="428.55" y="608.90">0</text><path d="M763 0H583V1147Q518 1085 412 1023Q307 961 223 930V1104Q374 1175 487 1276Q600 1377 647 1472H763Z" transform="translate(500.14,608.90) scale(0.01123,-0.01123)"/><text x="512.93" y="608.90">2</text><path d="M763 0H583V1147Q518 1085 412 1023Q307 961 223 930V1104Q374 1175 487 1276Q600 1377 647 1472H763Z" transform="translate(584.52,608.90) scale(0.01123,-0.01123)"/><text x="597.31" y="608.90">4</text><path d="M763 0H583V1147Q518 1085 412 1023Q307 961 223 930V1104Q374 1175 487 1276Q600 1377 647 1472H763Z" transform="translate(668.90,608.90) scale(0.01123,-0.01123)"/><text x="681.69" y="608.90">6</text><path d="M763 0H583V1147Q518 1085 412 1023Q307 961 223 930V1104Q374 1175 487 1276Q600 1377 647 1472H763Z" transform="translate(753.28,608.90) scale(0.01123,-0.01123)"/><text x="766.07" y="608.90">8</text></g>
<text x="390.4" y="646.8" text-anchor="middle" style="font-size:28.2px">Time (ms)</text>
</svg>
</body></html>
